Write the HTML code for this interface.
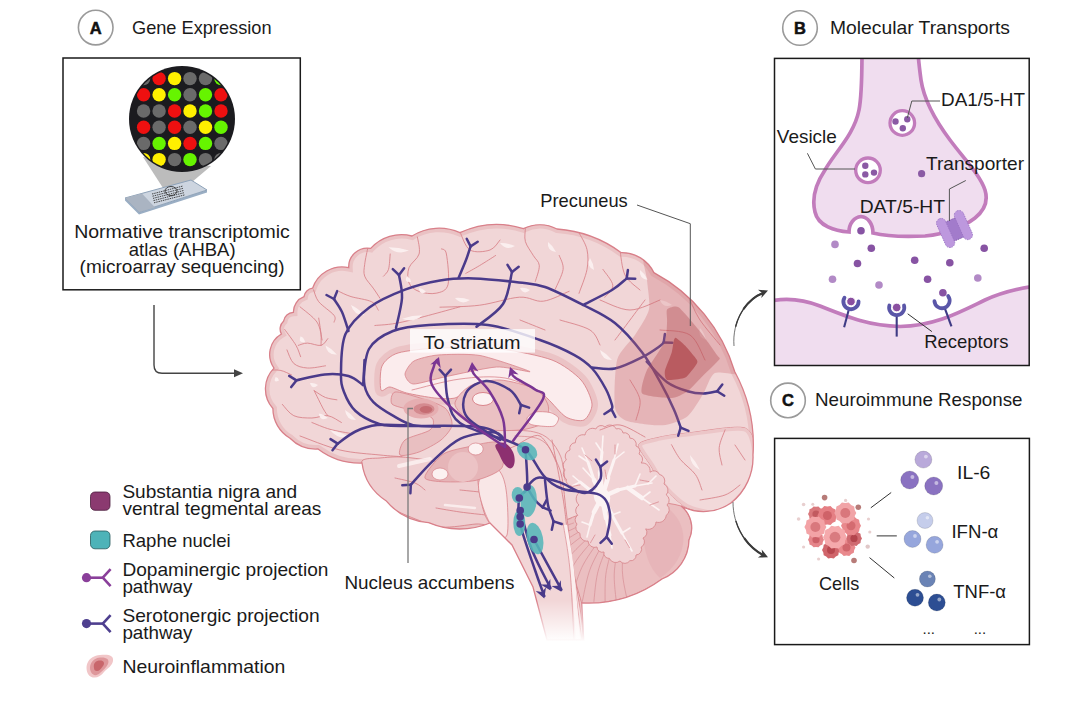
<!DOCTYPE html>
<html><head><meta charset="utf-8"><style>
html,body{margin:0;padding:0;background:#fff;width:1082px;height:705px;overflow:hidden}
svg{display:block}
text{font-family:"Liberation Sans", sans-serif}
</style></head><body>
<svg width="1082" height="705" viewBox="0 0 1082 705">
<rect width="1082" height="705" fill="#fff"/>
<circle cx="95.7" cy="27.6" r="17.3" fill="#fff" stroke="#9a9a9a" stroke-width="1.6"/>
<text x="95.7" y="33.6" font-size="16.5" font-weight="bold" fill="#111" stroke="#111" stroke-width="0.5" text-anchor="middle">A</text>
<text x="132" y="33.6" font-size="18.5" font-weight="normal" fill="#1a1a1a" text-anchor="start" textLength="139.5" lengthAdjust="spacingAndGlyphs">Gene Expression</text>
<circle cx="800" cy="28" r="17.3" fill="#fff" stroke="#9a9a9a" stroke-width="1.6"/>
<text x="800" y="34" font-size="16.5" font-weight="bold" fill="#111" stroke="#111" stroke-width="0.5" text-anchor="middle">B</text>
<text x="830" y="33.6" font-size="18.5" font-weight="normal" fill="#1a1a1a" text-anchor="start" textLength="180" lengthAdjust="spacingAndGlyphs">Molecular Transports</text>
<circle cx="788" cy="400.4" r="17.3" fill="#fff" stroke="#9a9a9a" stroke-width="1.6"/>
<text x="788" y="406.4" font-size="16.5" font-weight="bold" fill="#111" stroke="#111" stroke-width="0.5" text-anchor="middle">C</text>
<text x="815" y="406.3" font-size="18.5" font-weight="normal" fill="#1a1a1a" text-anchor="start" textLength="207.5" lengthAdjust="spacingAndGlyphs">Neuroimmune Response</text>
<rect x="63" y="58" width="237.3" height="231.8" fill="#fff" stroke="#1a1a1a" stroke-width="1.5"/>
<polygon points="143,157 211,166 192,182 163,188" fill="#bcbcbc"/>
<polygon points="125,198 139,212 207,190 207,192.5 139,214.5 125,200.5" fill="#9aaec4"/>
<polygon points="125,198 191,180 207,190 139,212" fill="#cdd5e0" stroke="#8ea2b8" stroke-width="1"/>
<polygon points="125,198 142,193.5 155,207.5 139,212" fill="#aab4c2"/>
<line x1="152.0" y1="194.0" x2="183.0" y2="186.0" stroke="#333" stroke-width="0.9" stroke-dasharray="1.5,0.8"/>
<line x1="152.5" y1="196.2" x2="183.5" y2="188.2" stroke="#333" stroke-width="0.9" stroke-dasharray="1.5,0.8"/>
<line x1="153.0" y1="198.4" x2="184.0" y2="190.4" stroke="#333" stroke-width="0.9" stroke-dasharray="1.5,0.8"/>
<line x1="153.5" y1="200.6" x2="184.5" y2="192.6" stroke="#333" stroke-width="0.9" stroke-dasharray="1.5,0.8"/>
<line x1="154.0" y1="202.8" x2="185.0" y2="194.8" stroke="#333" stroke-width="0.9" stroke-dasharray="1.5,0.8"/>
<ellipse cx="171" cy="191" rx="6" ry="4.5" fill="none" stroke="#333" stroke-width="0.9"/>
<defs><clipPath id="mc"><circle cx="182" cy="119" r="51.5"/></clipPath></defs>
<circle cx="182" cy="119" r="53" fill="#1b1b1f"/>
<g clip-path="url(#mc)">
<circle cx="143.6" cy="78.6" r="6.7" fill="#6a6a6a"/>
<circle cx="159.1" cy="78.6" r="6.7" fill="#ee1010"/>
<circle cx="174.6" cy="78.6" r="6.7" fill="#fff000"/>
<circle cx="190.0" cy="78.6" r="6.7" fill="#6a6a6a"/>
<circle cx="205.5" cy="78.6" r="6.7" fill="#6a6a6a"/>
<circle cx="221.0" cy="78.6" r="6.7" fill="#66f400"/>
<circle cx="143.6" cy="94.8" r="6.7" fill="#ee1010"/>
<circle cx="159.1" cy="94.8" r="6.7" fill="#fff000"/>
<circle cx="174.6" cy="94.8" r="6.7" fill="#66f400"/>
<circle cx="190.0" cy="94.8" r="6.7" fill="#6a6a6a"/>
<circle cx="205.5" cy="94.8" r="6.7" fill="#66f400"/>
<circle cx="221.0" cy="94.8" r="6.7" fill="#ee1010"/>
<circle cx="143.6" cy="111.0" r="6.7" fill="#6a6a6a"/>
<circle cx="159.1" cy="111.0" r="6.7" fill="#6a6a6a"/>
<circle cx="174.6" cy="111.0" r="6.7" fill="#ee1010"/>
<circle cx="190.0" cy="111.0" r="6.7" fill="#fff000"/>
<circle cx="205.5" cy="111.0" r="6.7" fill="#66f400"/>
<circle cx="221.0" cy="111.0" r="6.7" fill="#ee1010"/>
<circle cx="143.6" cy="127.2" r="6.7" fill="#ee1010"/>
<circle cx="159.1" cy="127.2" r="6.7" fill="#6a6a6a"/>
<circle cx="174.6" cy="127.2" r="6.7" fill="#ee1010"/>
<circle cx="190.0" cy="127.2" r="6.7" fill="#6a6a6a"/>
<circle cx="205.5" cy="127.2" r="6.7" fill="#fff000"/>
<circle cx="221.0" cy="127.2" r="6.7" fill="#66f400"/>
<circle cx="143.6" cy="143.4" r="6.7" fill="#6a6a6a"/>
<circle cx="159.1" cy="143.4" r="6.7" fill="#66f400"/>
<circle cx="174.6" cy="143.4" r="6.7" fill="#fff000"/>
<circle cx="190.0" cy="143.4" r="6.7" fill="#ee1010"/>
<circle cx="205.5" cy="143.4" r="6.7" fill="#66f400"/>
<circle cx="221.0" cy="143.4" r="6.7" fill="#6a6a6a"/>
<circle cx="143.6" cy="159.6" r="6.7" fill="#fff000"/>
<circle cx="159.1" cy="159.6" r="6.7" fill="#fff000"/>
<circle cx="174.6" cy="159.6" r="6.7" fill="#6a6a6a"/>
<circle cx="190.0" cy="159.6" r="6.7" fill="#66f400"/>
<circle cx="205.5" cy="159.6" r="6.7" fill="#6a6a6a"/>
<circle cx="221.0" cy="159.6" r="6.7" fill="#6a6a6a"/>
</g>
<text x="182" y="237.8" font-size="18.4" font-weight="normal" fill="#1a1a1a" text-anchor="middle" textLength="215.6" lengthAdjust="spacingAndGlyphs">Normative transcriptomic</text>
<text x="182.2" y="255.6" font-size="18.4" font-weight="normal" fill="#1a1a1a" text-anchor="middle" textLength="106.7" lengthAdjust="spacingAndGlyphs">atlas (AHBA)</text>
<text x="182.1" y="273.4" font-size="18.4" font-weight="normal" fill="#1a1a1a" text-anchor="middle" textLength="205" lengthAdjust="spacingAndGlyphs">(microarray sequencing)</text>
<path d="M154,305 V365 Q154,373.3 162,373.3 H236" fill="none" stroke="#444" stroke-width="1.4"/>
<polygon points="243,373.3 234,369.3 234,377.3" fill="#444"/>
<defs>
<clipPath id="bc"><path d="M362,463 A69.3,69.3 0 0 1 318,449 A36.0,36.0 0 0 1 290,438.3 A34.4,34.4 0 0 1 272.9,408.5 A29.5,29.5 0 0 1 274,368.1 A23.7,23.7 0 0 1 281.4,334 A10.3,10.3 0 0 1 283.5,321.3 A10.7,10.7 0 0 1 293.4,312.3 A16.2,16.2 0 0 1 304,296.7 A9.7,9.7 0 0 1 312.6,288.2 A31.2,31.2 0 0 1 348.7,267.6 A18.7,18.7 0 0 1 370.7,248.4 A41.4,41.4 0 0 1 412,236 A50.9,50.9 0 0 1 459.9,232.7 A87.8,87.8 0 0 1 523.4,228.7 A37.0,37.0 0 0 1 557,229 A123.4,123.4 0 0 1 621.3,252.7 A35.5,35.5 0 0 1 653.9,272.6 A166.4,166.4 0 0 1 734.8,371.8 A153.3,153.3 0 0 1 753,455 A58.1,58.1 0 0 1 731,503 A48.6,48.6 0 0 1 681,506 A27.9,27.9 0 0 1 689,540 A42.7,42.7 0 0 1 662,579 A125.7,125.7 0 0 1 581.7,603 L583.7,640 L547,640 L533,587 L512,545 L490,523 A79.8,79.8 0 0 1 428.6,522.7 A62.3,62.3 0 0 1 386,500.7 A53.6,53.6 0 0 1 362,463Z"/></clipPath>
<linearGradient id="fade" x1="0" y1="0" x2="0" y2="1"><stop offset="0" stop-color="#fff" stop-opacity="0"/><stop offset="1" stop-color="#fff" stop-opacity="1"/></linearGradient>
</defs>
<path d="M362,463 A69.3,69.3 0 0 1 318,449 A36.0,36.0 0 0 1 290,438.3 A34.4,34.4 0 0 1 272.9,408.5 A29.5,29.5 0 0 1 274,368.1 A23.7,23.7 0 0 1 281.4,334 A10.3,10.3 0 0 1 283.5,321.3 A10.7,10.7 0 0 1 293.4,312.3 A16.2,16.2 0 0 1 304,296.7 A9.7,9.7 0 0 1 312.6,288.2 A31.2,31.2 0 0 1 348.7,267.6 A18.7,18.7 0 0 1 370.7,248.4 A41.4,41.4 0 0 1 412,236 A50.9,50.9 0 0 1 459.9,232.7 A87.8,87.8 0 0 1 523.4,228.7 A37.0,37.0 0 0 1 557,229 A123.4,123.4 0 0 1 621.3,252.7 A35.5,35.5 0 0 1 653.9,272.6 A166.4,166.4 0 0 1 734.8,371.8 A153.3,153.3 0 0 1 753,455 A58.1,58.1 0 0 1 731,503 A48.6,48.6 0 0 1 681,506 A27.9,27.9 0 0 1 689,540 A42.7,42.7 0 0 1 662,579 A125.7,125.7 0 0 1 581.7,603 L583.7,640 L547,640 L533,587 L512,545 L490,523 A79.8,79.8 0 0 1 428.6,522.7 A62.3,62.3 0 0 1 386,500.7 A53.6,53.6 0 0 1 362,463Z" fill="#f1d6d7"/>
<g clip-path="url(#bc)">
<path d="M362,463 A69.3,69.3 0 0 1 318,449 A36.0,36.0 0 0 1 290,438.3 A34.4,34.4 0 0 1 272.9,408.5 A29.5,29.5 0 0 1 274,368.1 A23.7,23.7 0 0 1 281.4,334 A10.3,10.3 0 0 1 283.5,321.3 A10.7,10.7 0 0 1 293.4,312.3 A16.2,16.2 0 0 1 304,296.7 A9.7,9.7 0 0 1 312.6,288.2 A31.2,31.2 0 0 1 348.7,267.6 A18.7,18.7 0 0 1 370.7,248.4 A41.4,41.4 0 0 1 412,236 A50.9,50.9 0 0 1 459.9,232.7 A87.8,87.8 0 0 1 523.4,228.7 A37.0,37.0 0 0 1 557,229 A123.4,123.4 0 0 1 621.3,252.7 A35.5,35.5 0 0 1 653.9,272.6 A166.4,166.4 0 0 1 734.8,371.8 A153.3,153.3 0 0 1 753,455 A58.1,58.1 0 0 1 731,503 A48.6,48.6 0 0 1 681,506 A27.9,27.9 0 0 1 689,540 A42.7,42.7 0 0 1 662,579 A125.7,125.7 0 0 1 581.7,603 L583.7,640 L547,640 L533,587 L512,545 L490,523 A79.8,79.8 0 0 1 428.6,522.7 A62.3,62.3 0 0 1 386,500.7 A53.6,53.6 0 0 1 362,463Z" fill="none" stroke="#eac2c4" stroke-width="8"/>
<path d="M362.0,461.0 C363.9,457.8 374.7,458.5 380.0,458.0 C385.3,457.5 394.0,456.5 402.0,457.0 C410.0,457.5 430.9,460.3 440.0,462.0 C449.1,463.7 463.3,466.3 470.0,470.0 C476.7,473.7 486.7,482.9 490.0,490.0 C493.3,497.1 496.9,518.5 495.0,523.0 C493.1,527.5 483.1,523.5 476.0,524.0 C468.9,524.5 450.5,528.1 441.4,527.0 C432.3,525.9 415.8,519.2 408.0,516.0 C400.2,512.8 388.6,507.5 383.0,503.0 C377.4,498.5 368.8,487.6 366.0,482.0 C363.2,476.4 360.1,464.2 362.0,461.0Z" fill="#efcfd1" stroke="#d9848b" stroke-width="0.9"/>
<path d="M395.0,478.0 C398.3,478.8 410.0,481.0 415.0,483.0 C420.0,485.0 423.3,488.8 425.0,490.0" fill="none" stroke="#d9848b" stroke-width="0.9" stroke-linecap="round"/>
<path d="M436.0,508.0 C440.0,508.7 451.7,510.8 460.0,512.0 C468.3,513.2 481.7,514.5 486.0,515.0" fill="none" stroke="#d9848b" stroke-width="0.9" stroke-linecap="round"/>
<path d="M460.0,490.0 C463.3,490.3 476.7,491.7 480.0,492.0" fill="none" stroke="#d9848b" stroke-width="0.9" stroke-linecap="round"/>
<path d="M445.0,505.0 C450.0,505.5 470.0,507.5 475.0,508.0" fill="none" stroke="#fbeeee" stroke-width="2.5" stroke-linecap="round" opacity="0.9"/>
<path d="M300.0,436.0 C306.7,438.3 326.7,446.8 340.0,450.0 C353.3,453.2 369.7,453.9 380.0,455.0 C390.3,456.1 398.3,456.4 402.0,456.7" fill="none" stroke="#d9848b" stroke-width="0.9" stroke-linecap="round"/>
<clipPath id="occc"><path d="M638.7,444.7 C639.9,440.9 652.8,438.8 659.6,437.2 C666.4,435.6 678.0,434.0 689.4,432.8 C700.8,431.6 736.1,425.0 745.0,428.0 C753.9,431.0 755.3,447.9 756.0,455.5 C756.7,463.1 753.3,478.3 750.0,485.0 C746.7,491.7 736.1,502.1 731.2,506.0 C726.3,509.9 719.2,513.8 713.2,514.0 C707.2,514.2 692.7,510.6 686.4,507.3 C680.1,504.0 670.4,495.0 665.6,489.4 C660.8,483.8 654.3,471.6 650.7,465.6 C647.1,459.6 637.5,448.5 638.7,444.7Z"/></clipPath>
<path d="M638.7,444.7 C639.9,440.9 652.8,438.8 659.6,437.2 C666.4,435.6 678.0,434.0 689.4,432.8 C700.8,431.6 736.1,425.0 745.0,428.0 C753.9,431.0 755.3,447.9 756.0,455.5 C756.7,463.1 753.3,478.3 750.0,485.0 C746.7,491.7 736.1,502.1 731.2,506.0 C726.3,509.9 719.2,513.8 713.2,514.0 C707.2,514.2 692.7,510.6 686.4,507.3 C680.1,504.0 670.4,495.0 665.6,489.4 C660.8,483.8 654.3,471.6 650.7,465.6 C647.1,459.6 637.5,448.5 638.7,444.7Z" fill="#f2d9da" stroke="#d9848b" stroke-width="0.9"/>
<g clip-path="url(#occc)">
<path d="M638.7,444.7 C639.9,440.9 652.8,438.8 659.6,437.2 C666.4,435.6 678.0,434.0 689.4,432.8 C700.8,431.6 736.1,425.0 745.0,428.0 C753.9,431.0 755.3,447.9 756.0,455.5 C756.7,463.1 753.3,478.3 750.0,485.0 C746.7,491.7 736.1,502.1 731.2,506.0 C726.3,509.9 719.2,513.8 713.2,514.0 C707.2,514.2 692.7,510.6 686.4,507.3 C680.1,504.0 670.4,495.0 665.6,489.4 C660.8,483.8 654.3,471.6 650.7,465.6 C647.1,459.6 637.5,448.5 638.7,444.7Z" fill="none" stroke="#ecc6c8" stroke-width="7"/>
</g>
<path d="M671.5,444.7 C673.0,447.2 676.5,454.6 680.5,459.6 C684.5,464.6 691.8,469.4 695.4,474.5 C699.0,479.6 700.9,487.4 702.0,490.0" fill="none" stroke="#d9848b" stroke-width="0.9" stroke-linecap="round"/>
<path d="M725.1,429.8 C724.1,432.8 719.7,441.8 719.2,447.7 C718.7,453.6 721.5,462.1 722.0,465.0" fill="none" stroke="#d9848b" stroke-width="0.9" stroke-linecap="round"/>
<path d="M700.0,500.0 C704.2,499.2 718.3,497.5 725.0,495.0 C731.7,492.5 737.5,486.7 740.0,485.0" fill="none" stroke="#d9848b" stroke-width="0.9" stroke-linecap="round"/>
<path d="M735.0,445.0 C736.7,447.5 743.3,457.5 745.0,460.0" fill="none" stroke="#d9848b" stroke-width="0.9" stroke-linecap="round"/>
<path d="M690.0,455.0 Q690.4,465.6 700.0,470.0 Q696.2,461.7 690.0,455.0Z" fill="#fbf0f0" opacity="0.95"/>
<path d="M681,506 A27.9,27.9 0 0 1 689,540 A42.7,42.7 0 0 1 662,579 A125.7,125.7 0 0 1 581.7,603 L572,570 L566,520 C600,505 650,497 681,506Z" fill="#ebbfc1" stroke="#d9848b" stroke-width="0.9"/>
<clipPath id="cbc"><path d="M681,506 A27.9,27.9 0 0 1 689,540 A42.7,42.7 0 0 1 662,579 A125.7,125.7 0 0 1 581.7,603 L572,570 L566,520 C600,505 650,497 681,506Z"/></clipPath>
<g clip-path="url(#cbc)">
<path d="M623.7,544.2 C623.5,549.3 621.6,563.8 622.6,574.6 C623.5,585.5 628.2,603.4 629.3,609.1" fill="none" stroke="#d9949a" stroke-width="0.8" stroke-linecap="round"/>
<path d="M618.5,544.9 C617.8,549.9 614.4,564.1 614.2,575.0 C614.0,585.8 616.8,604.1 617.3,610.0" fill="none" stroke="#d9949a" stroke-width="0.8" stroke-linecap="round"/>
<path d="M613.3,545.0 C612.0,549.9 607.2,563.7 605.8,574.5 C604.5,585.2 605.3,603.7 605.2,609.6" fill="none" stroke="#d9949a" stroke-width="0.8" stroke-linecap="round"/>
<path d="M608.0,544.5 C606.3,549.3 600.0,562.5 597.6,573.1 C595.1,583.6 594.0,602.1 593.3,607.9" fill="none" stroke="#d9949a" stroke-width="0.8" stroke-linecap="round"/>
<path d="M602.9,543.5 C600.7,548.1 593.0,560.6 589.5,570.8 C586.0,581.1 582.9,599.3 581.6,605.1" fill="none" stroke="#d9949a" stroke-width="0.8" stroke-linecap="round"/>
<path d="M597.9,542.0 C595.2,546.3 586.3,557.9 581.7,567.7 C577.1,577.6 572.2,595.4 570.3,601.0" fill="none" stroke="#d9949a" stroke-width="0.8" stroke-linecap="round"/>
<path d="M593.1,539.9 C590.0,543.9 579.9,554.6 574.3,563.9 C568.7,573.2 562.0,590.4 559.5,595.7" fill="none" stroke="#d9949a" stroke-width="0.8" stroke-linecap="round"/>
<path d="M588.5,537.4 C585.0,541.0 573.9,550.6 567.3,559.2 C560.8,567.9 552.3,584.3 549.3,589.4" fill="none" stroke="#d9949a" stroke-width="0.8" stroke-linecap="round"/>
<path d="M584.2,534.4 C580.3,537.7 568.3,546.0 560.9,553.9 C553.5,561.8 543.3,577.3 539.8,582.0" fill="none" stroke="#d9949a" stroke-width="0.8" stroke-linecap="round"/>
<path d="M580.3,531.0 C576.1,533.8 563.2,540.8 555.0,547.9 C546.8,555.0 535.1,569.3 531.1,573.6" fill="none" stroke="#d9949a" stroke-width="0.8" stroke-linecap="round"/>
<path d="M576.7,527.1 C572.2,529.5 558.7,535.1 549.8,541.4 C540.9,547.6 527.7,560.6 523.3,564.4" fill="none" stroke="#d9949a" stroke-width="0.8" stroke-linecap="round"/>
<path d="M573.5,523.0 C568.8,524.8 554.8,529.0 545.3,534.3 C535.8,539.5 521.4,551.1 516.6,554.5" fill="none" stroke="#d9949a" stroke-width="0.8" stroke-linecap="round"/>
<path d="M570.9,518.5 C566.0,519.9 551.6,522.6 541.6,526.8 C531.6,531.0 516.0,541.0 510.9,543.8" fill="none" stroke="#d9949a" stroke-width="0.8" stroke-linecap="round"/>
<path d="M568.6,513.7 C563.6,514.6 549.0,515.8 538.7,518.9 C528.3,522.1 511.7,530.4 506.4,532.7" fill="none" stroke="#d9949a" stroke-width="0.8" stroke-linecap="round"/>
<path d="M566.9,508.8 C561.9,509.1 547.2,508.8 536.6,510.8 C525.9,512.9 508.6,519.4 503.0,521.1" fill="none" stroke="#d9949a" stroke-width="0.8" stroke-linecap="round"/>
<path d="M565.8,503.7 C560.7,503.5 546.2,501.6 535.4,502.6 C524.5,503.5 506.6,508.2 500.9,509.3" fill="none" stroke="#d9949a" stroke-width="0.8" stroke-linecap="round"/>
<path d="M565.1,498.5 C560.1,497.8 545.9,494.4 535.0,494.2 C524.2,494.0 505.9,496.8 500.0,497.3" fill="none" stroke="#d9949a" stroke-width="0.8" stroke-linecap="round"/>
<path d="M565.0,493.3 C560.1,492.0 546.3,487.2 535.5,485.8 C524.8,484.5 506.3,485.3 500.4,485.2" fill="none" stroke="#d9949a" stroke-width="0.8" stroke-linecap="round"/>
<path d="M565.5,488.0 C560.7,486.3 547.5,480.0 536.9,477.6 C526.4,475.1 507.9,474.0 502.1,473.3" fill="none" stroke="#d9949a" stroke-width="0.8" stroke-linecap="round"/>
<path d="M566.5,482.9 C561.9,480.7 549.4,473.0 539.2,469.5 C528.9,466.0 510.7,462.9 504.9,461.6" fill="none" stroke="#d9949a" stroke-width="0.8" stroke-linecap="round"/>
<path d="M568.0,477.9 C563.7,475.2 552.1,466.3 542.3,461.7 C532.4,457.1 514.6,452.2 509.0,450.3" fill="none" stroke="#d9949a" stroke-width="0.8" stroke-linecap="round"/>
<path d="M570.1,473.1 C566.1,470.0 555.4,459.9 546.1,454.3 C536.8,448.7 519.6,442.0 514.3,439.5" fill="none" stroke="#d9949a" stroke-width="0.8" stroke-linecap="round"/>
</g>
<path d="M650,500 C690,510 695,555 660,578 C640,560 640,520 650,500Z" fill="#e6b3b6" opacity="0.8"/>
<path d="M595.8,429.0 A5.8,5.8 0 0 1 605.0,427.0 A7.1,7.1 0 0 1 616.3,429.0 A4.8,4.8 0 0 1 623.0,433.0 A5.3,5.3 0 0 1 629.9,438.1 A6.2,6.2 0 0 1 636.0,446.0 A5.3,5.3 0 0 1 639.0,454.0 A5.7,5.7 0 0 1 641.2,463.0 A7.9,7.9 0 0 1 650.0,472.2 A6.0,6.0 0 0 1 659.4,474.4 A6.6,6.6 0 0 1 664.0,484.0 A6.9,6.9 0 0 1 666.2,494.9 A6.3,6.3 0 0 1 667.0,505.0 A6.4,6.4 0 0 1 666.2,515.3 A7.6,7.6 0 0 1 656.0,522.0 A7.7,7.7 0 0 1 645.7,528.9 A5.9,5.9 0 0 1 643.0,538.0 A5.7,5.7 0 0 1 641.2,547.0 A5.9,5.9 0 0 1 636.0,555.0 A5.2,5.2 0 0 1 629.9,560.7 A6.1,6.1 0 0 1 620.0,561.0 A6.8,6.8 0 0 1 609.4,558.4 A5.2,5.2 0 0 1 604.0,552.0 A5.3,5.3 0 0 1 597.0,547.0 A6.7,6.7 0 0 1 588.0,541.0 A6.8,6.8 0 0 1 580.0,533.4 A6.1,6.1 0 0 1 577.0,524.0 A5.4,5.4 0 0 1 577.7,515.3 A6.4,6.4 0 0 1 579.0,505.0 A8.1,8.1 0 0 1 580.0,492.0 A6.2,6.2 0 0 1 572.0,486.0 A5.6,5.6 0 0 1 566.3,479.0 A5.6,5.6 0 0 1 565.0,470.0 A6.3,6.3 0 0 1 566.3,460.0 A6.6,6.6 0 0 1 570.0,450.0 A5.6,5.6 0 0 1 575.4,442.7 A7.6,7.6 0 0 1 585.0,435.0 A7.7,7.7 0 0 1 595.8,429.0Z" fill="#f1d3d5" stroke="#d98a90" stroke-width="0.9"/>
<ellipse cx="602" cy="497" rx="8" ry="10" fill="#fcf3f3" transform="rotate(-20 602 497)"/>
<line x1="602.0" y1="497.0" x2="594.0" y2="480.0" stroke="#fcf3f3" stroke-width="4.5" stroke-linecap="round"/>
<line x1="594.0" y1="480.0" x2="588.0" y2="462.0" stroke="#fcf3f3" stroke-width="3.0" stroke-linecap="round"/>
<line x1="588.0" y1="462.0" x2="582.0" y2="448.0" stroke="#fcf3f3" stroke-width="1.6" stroke-linecap="round"/>
<line x1="602.0" y1="497.0" x2="600.0" y2="472.0" stroke="#fcf3f3" stroke-width="4.5" stroke-linecap="round"/>
<line x1="600.0" y1="472.0" x2="602.0" y2="452.0" stroke="#fcf3f3" stroke-width="3.0" stroke-linecap="round"/>
<line x1="602.0" y1="452.0" x2="603.0" y2="436.0" stroke="#fcf3f3" stroke-width="1.6" stroke-linecap="round"/>
<line x1="602.0" y1="497.0" x2="608.0" y2="478.0" stroke="#fcf3f3" stroke-width="4.5" stroke-linecap="round"/>
<line x1="608.0" y1="478.0" x2="614.0" y2="460.0" stroke="#fcf3f3" stroke-width="3.0" stroke-linecap="round"/>
<line x1="614.0" y1="460.0" x2="618.0" y2="444.0" stroke="#fcf3f3" stroke-width="1.6" stroke-linecap="round"/>
<line x1="602.0" y1="497.0" x2="618.0" y2="490.0" stroke="#fcf3f3" stroke-width="4.5" stroke-linecap="round"/>
<line x1="618.0" y1="490.0" x2="635.0" y2="486.0" stroke="#fcf3f3" stroke-width="3.0" stroke-linecap="round"/>
<line x1="635.0" y1="486.0" x2="652.0" y2="483.0" stroke="#fcf3f3" stroke-width="1.6" stroke-linecap="round"/>
<line x1="628.0" y1="488.0" x2="642.0" y2="498.0" stroke="#fcf3f3" stroke-width="4.5" stroke-linecap="round"/>
<line x1="642.0" y1="498.0" x2="659.0" y2="510.0" stroke="#fcf3f3" stroke-width="1.6" stroke-linecap="round"/>
<line x1="602.0" y1="497.0" x2="612.0" y2="515.0" stroke="#fcf3f3" stroke-width="4.5" stroke-linecap="round"/>
<line x1="612.0" y1="515.0" x2="622.0" y2="533.0" stroke="#fcf3f3" stroke-width="3.0" stroke-linecap="round"/>
<line x1="622.0" y1="533.0" x2="632.0" y2="551.0" stroke="#fcf3f3" stroke-width="1.6" stroke-linecap="round"/>
<line x1="602.0" y1="497.0" x2="590.0" y2="490.0" stroke="#fcf3f3" stroke-width="4.5" stroke-linecap="round"/>
<line x1="590.0" y1="490.0" x2="580.0" y2="482.0" stroke="#fcf3f3" stroke-width="3.0" stroke-linecap="round"/>
<line x1="580.0" y1="482.0" x2="573.0" y2="476.0" stroke="#fcf3f3" stroke-width="1.6" stroke-linecap="round"/>
<line x1="602.0" y1="497.0" x2="606.0" y2="518.0" stroke="#fcf3f3" stroke-width="4.5" stroke-linecap="round"/>
<line x1="606.0" y1="518.0" x2="610.0" y2="535.0" stroke="#fcf3f3" stroke-width="3.0" stroke-linecap="round"/>
<line x1="610.0" y1="535.0" x2="612.0" y2="548.0" stroke="#fcf3f3" stroke-width="1.6" stroke-linecap="round"/>
<line x1="602.0" y1="497.0" x2="594.0" y2="512.0" stroke="#fcf3f3" stroke-width="4.5" stroke-linecap="round"/>
<line x1="594.0" y1="512.0" x2="590.0" y2="525.0" stroke="#fcf3f3" stroke-width="3.0" stroke-linecap="round"/>
<line x1="590.0" y1="525.0" x2="587.0" y2="537.0" stroke="#fcf3f3" stroke-width="1.6" stroke-linecap="round"/>
<line x1="588.0" y1="462.0" x2="579.0" y2="456.0" stroke="#fcf3f3" stroke-width="1.6" stroke-linecap="round"/>
<line x1="594.0" y1="480.0" x2="583.0" y2="468.0" stroke="#fcf3f3" stroke-width="1.6" stroke-linecap="round"/>
<line x1="602.0" y1="452.0" x2="596.0" y2="443.0" stroke="#fcf3f3" stroke-width="1.6" stroke-linecap="round"/>
<line x1="614.0" y1="460.0" x2="624.0" y2="452.0" stroke="#fcf3f3" stroke-width="1.6" stroke-linecap="round"/>
<line x1="635.0" y1="486.0" x2="640.0" y2="474.0" stroke="#fcf3f3" stroke-width="1.6" stroke-linecap="round"/>
<line x1="642.0" y1="498.0" x2="650.0" y2="492.0" stroke="#fcf3f3" stroke-width="1.6" stroke-linecap="round"/>
<line x1="622.0" y1="533.0" x2="630.0" y2="528.0" stroke="#fcf3f3" stroke-width="1.6" stroke-linecap="round"/>
<line x1="612.0" y1="515.0" x2="620.0" y2="512.0" stroke="#fcf3f3" stroke-width="1.6" stroke-linecap="round"/>
<line x1="610.0" y1="535.0" x2="602.0" y2="540.0" stroke="#fcf3f3" stroke-width="1.6" stroke-linecap="round"/>
<line x1="590.0" y1="525.0" x2="582.0" y2="522.0" stroke="#fcf3f3" stroke-width="1.6" stroke-linecap="round"/>
<line x1="580.0" y1="482.0" x2="572.0" y2="486.0" stroke="#fcf3f3" stroke-width="1.6" stroke-linecap="round"/>
<line x1="648.0" y1="484.0" x2="656.0" y2="476.0" stroke="#fcf3f3" stroke-width="1.6" stroke-linecap="round"/>
<path d="M585.0,455.0 C586.1,456.0 590.7,459.8 591.9,460.8" fill="none" stroke="#d98a90" stroke-width="0.8" stroke-linecap="round"/>
<path d="M615.0,445.0 C615.0,446.5 615.0,452.5 615.0,454.0" fill="none" stroke="#d98a90" stroke-width="0.8" stroke-linecap="round"/>
<path d="M640.0,480.0 C641.5,480.3 647.4,481.3 648.9,481.6" fill="none" stroke="#d98a90" stroke-width="0.8" stroke-linecap="round"/>
<path d="M650.0,505.0 C651.4,504.5 657.0,502.4 658.5,501.9" fill="none" stroke="#d98a90" stroke-width="0.8" stroke-linecap="round"/>
<path d="M625.0,540.0 C625.8,541.3 628.8,546.5 629.5,547.8" fill="none" stroke="#d98a90" stroke-width="0.8" stroke-linecap="round"/>
<path d="M595.0,535.0 C594.2,536.3 591.2,541.5 590.5,542.8" fill="none" stroke="#d98a90" stroke-width="0.8" stroke-linecap="round"/>
<path d="M580.0,485.0 C578.5,485.3 572.6,486.3 571.1,486.6" fill="none" stroke="#d98a90" stroke-width="0.8" stroke-linecap="round"/>
<path d="M605.0,470.0 C605.3,471.5 606.3,477.4 606.6,478.9" fill="none" stroke="#d98a90" stroke-width="0.8" stroke-linecap="round"/>
<path d="M478.0,476.0 C478.9,468.4 487.1,462.0 492.0,458.0 C496.9,454.0 508.6,448.9 515.0,446.0 C521.4,443.1 534.0,432.8 540.0,436.0 C546.0,439.2 556.5,460.1 560.0,470.0 C563.5,479.9 564.4,498.0 566.0,510.0 C567.6,522.0 569.9,542.7 572.0,560.0 C574.1,577.3 585.6,629.3 582.0,640.0 C578.4,650.7 552.5,647.3 545.0,640.0 C537.5,632.7 531.3,597.7 526.0,585.0 C520.7,572.3 510.5,554.3 505.0,545.0 C499.5,535.7 488.6,524.2 485.0,515.0 C481.4,505.8 477.1,483.6 478.0,476.0Z" fill="#f2d6d7" stroke="#d9848b" stroke-width="0.9"/>
<path d="M552.0,440.0 C553.8,449.7 560.2,480.5 563.0,498.0 C565.8,515.5 565.8,521.3 569.0,545.0 C572.2,568.7 579.8,624.2 582.0,640.0" fill="none" stroke="#d9848b" stroke-width="0.9" stroke-linecap="round"/>
<path d="M565.0,525.0 C566.2,532.5 569.8,550.8 572.0,570.0 C574.2,589.2 577.0,628.3 578.0,640.0" fill="none" stroke="#fbeeee" stroke-width="4"/>
<path d="M563.0,523.0 C564.2,530.8 568.2,550.5 570.0,570.0 C571.8,589.5 573.3,628.3 574.0,640.0" fill="none" stroke="#d9848b" stroke-width="0.7" stroke-linecap="round"/>
<path d="M507.5,430.0 C511.9,430.3 526.6,430.2 533.6,431.8 C540.6,433.4 545.0,435.5 549.5,439.7 C554.0,443.9 558.2,450.1 560.8,456.8 C563.4,463.5 564.3,476.1 565.0,480.0" fill="none" stroke="#d9848b" stroke-width="0.8" stroke-linecap="round"/>
<path d="M515.0,436.0 C518.5,436.3 530.5,436.3 536.0,438.0 C541.5,439.7 544.7,442.0 548.0,446.0 C551.3,450.0 554.7,459.3 556.0,462.0" fill="none" stroke="#d9848b" stroke-width="0.7" stroke-linecap="round"/>
<path d="M478.7,482.4 C479.9,475.2 487.3,468.0 491.2,466.8 C495.1,465.6 499.4,469.8 502.0,475.0 C504.6,480.2 506.2,488.0 507.0,498.0 C507.8,508.0 508.8,529.3 507.0,535.0 C505.2,540.7 499.8,536.2 496.0,532.0 C492.2,527.8 486.9,518.3 484.0,510.0 C481.1,501.7 477.5,489.6 478.7,482.4Z" fill="#f9e7e7" stroke="#d9848b" stroke-width="0.8"/>
<path d="M381.0,390.0 C379.9,387.2 379.7,370.9 382.0,366.0 C384.3,361.1 390.3,355.4 398.0,353.0 C405.7,350.6 426.4,348.5 440.0,348.0 C453.6,347.5 485.1,347.4 500.0,349.0 C514.9,350.6 541.2,355.9 552.0,360.0 C562.8,364.1 575.7,374.1 581.0,380.0 C586.3,385.9 591.6,398.7 592.0,404.0 C592.4,409.3 587.5,418.3 584.0,420.0 C580.5,421.7 570.8,419.8 566.0,417.0 C561.2,414.2 552.1,402.7 548.0,399.0 C543.9,395.3 541.4,391.1 535.0,389.0 C528.6,386.9 508.7,382.9 500.0,383.0 C491.3,383.1 476.0,388.0 470.0,390.0 C464.0,392.0 459.7,396.9 455.0,398.0 C450.3,399.1 441.2,398.7 434.7,398.0 C428.2,397.3 412.6,394.5 406.6,393.0 C400.6,391.5 393.4,387.4 390.0,387.0 C386.6,386.6 382.1,392.8 381.0,390.0Z" fill="none" stroke="#ebc3c5" stroke-width="12"/>
<path d="M395.0,392.0 C398.7,391.2 413.3,395.9 420.0,398.0 C426.7,400.1 440.7,404.4 445.0,408.0 C449.3,411.6 452.5,420.7 452.0,425.0 C451.5,429.3 445.4,436.4 441.0,440.0 C436.6,443.6 424.5,450.0 419.0,452.0 C413.5,454.0 401.9,456.6 400.0,455.0 C398.1,453.4 401.0,443.3 405.0,440.0 C409.0,436.7 426.4,432.9 430.0,430.0 C433.6,427.1 434.7,420.7 432.0,418.0 C429.3,415.3 415.3,411.9 410.0,410.0 C404.7,408.1 394.0,406.4 392.0,404.0 C390.0,401.6 391.3,392.8 395.0,392.0Z" fill="#e9bfc1" stroke="#d9848b" stroke-width="0.8"/>
<path d="M381.0,390.0 C379.9,387.2 379.7,370.9 382.0,366.0 C384.3,361.1 390.3,355.4 398.0,353.0 C405.7,350.6 426.4,348.5 440.0,348.0 C453.6,347.5 485.1,347.4 500.0,349.0 C514.9,350.6 541.2,355.9 552.0,360.0 C562.8,364.1 575.7,374.1 581.0,380.0 C586.3,385.9 591.6,398.7 592.0,404.0 C592.4,409.3 587.5,418.3 584.0,420.0 C580.5,421.7 570.8,419.8 566.0,417.0 C561.2,414.2 552.1,402.7 548.0,399.0 C543.9,395.3 541.4,391.1 535.0,389.0 C528.6,386.9 508.7,382.9 500.0,383.0 C491.3,383.1 476.0,388.0 470.0,390.0 C464.0,392.0 459.7,396.9 455.0,398.0 C450.3,399.1 441.2,398.7 434.7,398.0 C428.2,397.3 412.6,394.5 406.6,393.0 C400.6,391.5 393.4,387.4 390.0,387.0 C386.6,386.6 382.1,392.8 381.0,390.0Z" fill="#fbeced" stroke="#d9848b" stroke-width="0.9"/>
<path d="M405.0,374.0 C405.1,371.3 410.1,363.2 414.0,361.0 C417.9,358.8 430.3,355.6 438.0,355.0 C445.7,354.4 469.3,353.6 480.0,355.5 C490.7,357.4 528.1,370.3 530.0,371.6 C531.9,372.9 506.2,366.4 496.5,367.0 C486.8,367.6 456.2,374.5 446.5,376.5 C436.8,378.5 418.1,384.3 413.3,384.0 C408.5,383.7 404.9,376.7 405.0,374.0Z" fill="#e9bbbd" stroke="#d9848b" stroke-width="0.8"/>
<path d="M412.0,390.0 C420.0,388.2 444.5,381.0 460.0,379.0 C475.5,377.0 491.7,375.8 505.0,378.0 C518.3,380.2 534.2,389.7 540.0,392.0" fill="none" stroke="#d9848b" stroke-width="0.8" stroke-linecap="round"/>
<path d="M455.0,405.0 C453.7,399.4 464.0,389.3 470.0,386.0 C476.0,382.7 491.3,379.6 500.0,380.0 C508.7,380.4 528.6,385.7 535.0,389.0 C541.4,392.3 546.7,400.6 548.0,405.0 C549.3,409.4 548.7,418.7 545.0,422.0 C541.3,425.3 528.7,429.2 520.0,430.0 C511.3,430.8 488.7,431.3 480.0,428.0 C471.3,424.7 456.3,410.6 455.0,405.0Z" fill="#ebc1c3" stroke="#d9848b" stroke-width="0.8"/>
<ellipse cx="483" cy="399" rx="10.5" ry="6.5" fill="#fcf1f1" stroke="#d9848b" stroke-width="1"/>
<path d="M527.0,418.0 C527.7,416.4 531.9,412.7 535.0,412.0 C538.1,411.3 546.9,411.7 550.0,412.5 C553.1,413.3 558.0,416.2 558.5,418.0 C559.0,419.8 556.5,424.9 554.0,426.0 C551.5,427.1 543.2,426.3 540.0,426.0 C536.8,425.7 531.7,425.1 530.0,424.0 C528.3,422.9 526.3,419.6 527.0,418.0Z" fill="#fcf1f1" stroke="#d9848b" stroke-width="0.8"/>
<path d="M430.0,468.0 C432.5,464.7 439.2,456.4 444.0,453.6 C448.8,450.8 458.7,448.8 466.0,447.3 C473.3,445.8 494.2,439.9 499.0,442.6 C503.8,445.3 505.1,462.7 502.0,467.7 C498.9,472.7 483.7,478.4 476.0,480.3 C468.3,482.2 450.7,482.0 444.0,481.8 C437.3,481.6 427.3,480.5 425.4,478.7 C423.5,476.9 427.5,471.3 430.0,468.0Z" fill="#e6b5b8" stroke="#d9848b" stroke-width="0.8"/>
<circle cx="463" cy="467" r="15" fill="#ecc3c5"/>
<ellipse cx="475.7" cy="449" rx="7.5" ry="6" fill="#fcf1f1" stroke="#d9848b" stroke-width="0.7"/>
<ellipse cx="440" cy="474" rx="8" ry="6" fill="#fcf1f1" stroke="#d9848b" stroke-width="0.7"/>
<path d="M399.0,466.0 C404.2,464.8 424.8,460.2 430.0,459.0" fill="none" stroke="#fbeeee" stroke-width="4" stroke-linecap="round" opacity="0.9"/>
<ellipse cx="421" cy="408.5" rx="17.5" ry="10" fill="#e6aeb1"/>
<ellipse cx="424" cy="409" rx="10.5" ry="5.8" fill="#d48a8f"/>
<ellipse cx="426" cy="409.5" rx="6.3" ry="3.5" fill="#c56c72"/>
<path d="M284.7,329.5 C286.6,332.1 293.4,340.9 296.0,345.4 C298.6,349.9 299.8,354.8 300.6,356.7" fill="none" stroke="#d9848b" stroke-width="0.9" stroke-linecap="round"/>
<path d="M298.3,345.4 C299.8,345.0 303.6,343.1 307.4,343.1 C311.2,343.1 317.6,346.1 321.0,345.4 C324.4,344.6 326.7,339.7 327.8,338.6" fill="none" stroke="#d9848b" stroke-width="0.9" stroke-linecap="round"/>
<path d="M318.7,318.1 C319.1,320.8 320.6,329.4 321.0,334.0 C321.4,338.6 321.0,343.5 321.0,345.4" fill="none" stroke="#d9848b" stroke-width="0.9" stroke-linecap="round"/>
<path d="M287.0,349.9 C288.1,352.2 290.4,360.5 293.8,363.5 C297.2,366.5 302.1,367.6 307.4,368.0 C312.7,368.4 322.5,366.2 325.5,365.8" fill="none" stroke="#d9848b" stroke-width="0.9" stroke-linecap="round"/>
<path d="M266.5,370.3 C268.8,370.3 275.9,369.5 280.1,370.3 C284.3,371.1 289.6,374.1 291.5,374.9" fill="none" stroke="#d9848b" stroke-width="0.9" stroke-linecap="round"/>
<path d="M314.2,390.7 C316.1,391.8 321.7,396.0 325.5,397.5 C329.3,399.0 335.0,399.4 336.9,399.8" fill="none" stroke="#d9848b" stroke-width="0.9" stroke-linecap="round"/>
<path d="M282.4,404.4 C284.3,406.3 288.9,413.4 293.8,415.7 C298.7,418.0 306.2,418.0 311.9,418.0 C317.6,418.0 322.9,414.9 327.8,415.7 C332.7,416.4 339.1,421.4 341.4,422.5" fill="none" stroke="#d9848b" stroke-width="0.9" stroke-linecap="round"/>
<path d="M314.2,390.7 C315.7,393.7 321.0,404.7 323.3,408.9 C325.6,413.1 327.1,414.6 327.8,415.7" fill="none" stroke="#d9848b" stroke-width="0.9" stroke-linecap="round"/>
<path d="M311.9,422.5 C314.9,423.6 323.2,427.4 330.0,429.3 C336.8,431.2 348.9,433.1 352.7,433.8" fill="none" stroke="#d9848b" stroke-width="0.9" stroke-linecap="round"/>
<path d="M313.6,289.8 C314.5,291.8 315.3,297.4 318.7,301.7 C322.1,305.9 331.4,311.9 334.0,315.3 C336.6,318.7 334.0,321.0 334.0,322.1" fill="none" stroke="#d9848b" stroke-width="0.9" stroke-linecap="round"/>
<path d="M339.1,291.5 C341.1,292.4 345.6,294.9 351.0,296.6 C356.4,298.3 366.9,299.4 371.5,301.7 C376.1,304.0 377.2,308.8 378.3,310.2" fill="none" stroke="#d9848b" stroke-width="0.9" stroke-linecap="round"/>
<path d="M300.0,306.8 C302.8,309.4 313.3,316.6 317.0,322.1 C320.7,327.6 321.2,337.0 322.1,340.0" fill="none" stroke="#d9848b" stroke-width="0.9" stroke-linecap="round"/>
<path d="M368.0,247.2 C367.4,250.0 365.2,259.5 364.7,264.3 C364.1,269.1 363.3,272.2 364.7,276.2 C366.1,280.2 370.6,284.4 373.2,288.1 C375.8,291.8 378.9,296.6 380.0,298.3" fill="none" stroke="#d9848b" stroke-width="0.9" stroke-linecap="round"/>
<path d="M390.2,254.0 C389.9,256.6 389.6,265.7 388.5,269.4 C387.4,273.1 384.2,275.1 383.4,276.2" fill="none" stroke="#d9848b" stroke-width="0.9" stroke-linecap="round"/>
<path d="M417.4,237.0 C417.7,239.8 420.5,248.9 419.1,254.0 C417.7,259.1 410.7,262.9 409.0,267.7 C407.3,272.5 407.3,279.0 409.0,283.0 C410.7,287.0 414.6,289.8 419.1,291.5 C423.6,293.2 431.4,294.3 436.2,293.2 C441.0,292.1 446.3,291.2 448.0,284.7 C449.7,278.2 447.5,260.0 446.4,254.0 C445.3,248.0 442.1,249.8 441.3,248.9" fill="none" stroke="#d9848b" stroke-width="0.9" stroke-linecap="round"/>
<path d="M374.9,325.5 C379.4,324.9 387.9,325.2 402.1,322.1 C416.3,319.0 450.4,309.4 460.0,306.8" fill="none" stroke="#d9848b" stroke-width="0.9" stroke-linecap="round"/>
<path d="M440.0,307.2 C446.6,306.9 466.5,306.9 479.7,305.2 C492.9,303.5 508.8,297.9 519.4,297.2 C530.0,296.5 535.0,302.2 543.3,301.2 C551.6,300.2 564.8,292.9 569.1,291.3" fill="none" stroke="#d9848b" stroke-width="0.9" stroke-linecap="round"/>
<path d="M525.4,228.7 C525.4,230.8 524.1,237.1 525.4,241.6 C526.7,246.1 531.0,251.5 533.3,255.5 C535.6,259.5 539.0,261.2 539.3,265.5 C539.6,269.8 536.0,278.8 535.3,281.4" fill="none" stroke="#d9848b" stroke-width="0.9" stroke-linecap="round"/>
<path d="M579.0,232.7 C580.3,235.5 585.7,243.5 587.0,249.6 C588.3,255.7 588.3,262.1 587.0,269.4 C585.7,276.7 580.3,289.3 579.0,293.3" fill="none" stroke="#d9848b" stroke-width="0.9" stroke-linecap="round"/>
<path d="M495.6,255.5 C493.0,257.2 484.7,262.5 479.7,265.5 C474.7,268.5 468.1,272.1 465.8,273.4" fill="none" stroke="#d9848b" stroke-width="0.9" stroke-linecap="round"/>
<path d="M559.2,255.5 C559.9,257.8 563.8,263.8 563.1,269.4 C562.4,275.0 556.5,286.0 555.2,289.3" fill="none" stroke="#d9848b" stroke-width="0.9" stroke-linecap="round"/>
<path d="M602.9,269.4 C604.5,272.0 612.5,280.7 612.8,285.3 C613.1,289.9 606.1,295.2 604.8,297.2" fill="none" stroke="#d9848b" stroke-width="0.9" stroke-linecap="round"/>
<path d="M460.0,232.0 C461.7,235.0 465.0,247.0 470.0,250.0 C475.0,253.0 485.0,251.7 490.0,250.0 C495.0,248.3 498.3,241.7 500.0,240.0" fill="none" stroke="#d9848b" stroke-width="0.9" stroke-linecap="round"/>
<path d="M620.0,250.0 C620.8,254.2 621.7,268.3 625.0,275.0 C628.3,281.7 637.5,287.5 640.0,290.0" fill="none" stroke="#d9848b" stroke-width="0.9" stroke-linecap="round"/>
<path d="M645.0,300.0 C642.5,303.3 635.0,313.3 630.0,320.0 C625.0,326.7 617.5,336.7 615.0,340.0" fill="none" stroke="#d9848b" stroke-width="0.9" stroke-linecap="round"/>
<path d="M560.0,320.0 C565.0,321.7 583.3,325.8 590.0,330.0 C596.7,334.2 598.3,342.5 600.0,345.0" fill="none" stroke="#d9848b" stroke-width="0.9" stroke-linecap="round"/>
<path d="M520.0,320.0 C524.2,321.7 540.8,328.3 545.0,330.0" fill="none" stroke="#d9848b" stroke-width="0.9" stroke-linecap="round"/>
<path d="M600.0,300.0 C605.0,301.7 620.0,310.0 630.0,310.0 C640.0,310.0 655.0,301.7 660.0,300.0" fill="none" stroke="#d9848b" stroke-width="0.9" stroke-linecap="round"/>
<path d="M690.0,300.0 C691.7,303.3 695.0,312.5 700.0,320.0 C705.0,327.5 716.7,340.8 720.0,345.0" fill="none" stroke="#d9848b" stroke-width="0.9" stroke-linecap="round"/>
<path d="M660.0,330.0 C665.0,330.8 682.5,330.0 690.0,335.0 C697.5,340.0 702.5,355.8 705.0,360.0" fill="none" stroke="#d9848b" stroke-width="0.9" stroke-linecap="round"/>
<path d="M630.0,380.0 C631.7,383.3 639.0,393.3 640.0,400.0 C641.0,406.7 636.7,416.7 636.0,420.0" fill="none" stroke="#d9848b" stroke-width="0.9" stroke-linecap="round"/>
<path d="M600.0,430.0 C603.3,429.2 612.5,423.8 620.0,425.0 C627.5,426.2 640.8,435.0 645.0,437.0" fill="none" stroke="#d9848b" stroke-width="0.9" stroke-linecap="round"/>
<path d="M300.6,336.3 Q297.6,343.3 305.1,342.0 Q304.2,338.1 300.6,336.3Z" fill="#fbf0f0" opacity="0.95"/>
<path d="M275.6,377.1 Q272.6,383.5 279.0,380.5 Q278.5,377.6 275.6,377.1Z" fill="#fbf0f0" opacity="0.95"/>
<path d="M325.5,345.4 Q327.0,355.2 336.9,354.4 Q332.3,348.6 325.5,345.4Z" fill="#fbf0f0" opacity="0.95"/>
<path d="M318.7,413.4 Q320.2,421.7 327.8,418.0 Q324.0,414.2 318.7,413.4Z" fill="#fbf0f0" opacity="0.95"/>
<path d="M345.0,410.0 Q346.0,420.0 356.0,420.0 Q351.6,413.7 345.0,410.0Z" fill="#fbf0f0" opacity="0.95"/>
<path d="M388.5,247.2 Q397.7,255.5 409.0,250.6 Q399.0,247.2 388.5,247.2Z" fill="#fbf0f0" opacity="0.95"/>
<path d="M407.0,276.0 Q403.4,282.7 411.0,282.0 Q410.4,278.1 407.0,276.0Z" fill="#fbf0f0" opacity="0.95"/>
<path d="M351.0,305.1 Q353.8,315.6 364.7,315.3 Q358.9,308.8 351.0,305.1Z" fill="#fbf0f0" opacity="0.95"/>
<path d="M402.1,318.7 Q413.4,323.6 422.6,315.3 Q412.1,315.3 402.1,318.7Z" fill="#fbf0f0" opacity="0.95"/>
<path d="M419.1,288.1 Q419.3,295.9 426.0,292.0 Q423.4,288.6 419.1,288.1Z" fill="#fbf0f0" opacity="0.95"/>
<path d="M500.0,243.0 Q506.2,251.1 515.0,246.0 Q507.8,242.8 500.0,243.0Z" fill="#fbf0f0" opacity="0.95"/>
<path d="M455.0,298.0 Q461.6,305.6 470.0,300.0 Q462.7,297.3 455.0,298.0Z" fill="#fbf0f0" opacity="0.95"/>
<path d="M548.0,242.0 Q546.8,251.2 556.0,252.0 Q553.3,245.9 548.0,242.0Z" fill="#fbf0f0" opacity="0.95"/>
<path d="M590.0,258.0 Q585.6,266.1 594.0,270.0 Q593.6,263.5 590.0,258.0Z" fill="#fbf0f0" opacity="0.95"/>
<path d="M520.0,288.0 Q523.7,295.6 530.0,290.0 Q525.3,287.3 520.0,288.0Z" fill="#fbf0f0" opacity="0.95"/>
<path d="M640.0,270.0 Q638.8,279.2 648.0,280.0 Q645.3,273.9 640.0,270.0Z" fill="#fbf0f0" opacity="0.95"/>
<path d="M700.0,328.0 Q697.0,337.0 706.0,340.0 Q704.5,333.2 700.0,328.0Z" fill="#fbf0f0" opacity="0.95"/>
<path d="M600.0,350.0 Q601.7,360.1 612.0,360.0 Q607.1,353.7 600.0,350.0Z" fill="#fbf0f0" opacity="0.95"/>
<path d="M660.0,300.0 Q663.4,308.7 672.0,305.0 Q666.7,300.9 660.0,300.0Z" fill="#fbf0f0" opacity="0.95"/>
<path d="M310.0,383.0 Q312.4,390.5 318.0,385.0 Q314.4,382.4 310.0,383.0Z" fill="#fbf0f0" opacity="0.95"/>
<path d="M330.0,430.0 Q337.8,439.8 350.0,437.0 Q340.6,431.9 330.0,430.0Z" fill="#fbf0f0" opacity="0.95"/>
</g>
<path d="M680.7,427.6 C679.6,424.6 677.3,417.0 673.9,409.4 C670.5,401.8 665.6,391.7 660.3,382.2 C655.0,372.7 649.8,362.5 642.2,352.6 C634.6,342.8 624.8,331.0 614.9,323.1 C605.0,315.2 594.8,311.0 583.1,305.0 C571.5,299.0 555.7,290.8 545.0,287.0 C534.3,283.2 530.9,283.8 519.0,282.4 C507.1,281.0 487.0,278.7 473.8,278.4 C460.6,278.1 451.5,278.5 440.0,280.4 C428.5,282.3 416.8,285.1 405.0,289.6 C393.2,294.1 379.2,300.0 369.3,307.4 C359.4,314.8 350.2,323.1 345.5,334.0 C340.8,344.9 341.2,363.3 341.0,373.0 C340.8,382.7 341.6,385.7 344.0,392.0 C346.4,398.3 349.8,405.7 355.5,411.0 C361.2,416.3 371.1,421.3 378.5,423.8 C385.9,426.3 383.1,425.5 400.0,426.0 C416.9,426.5 462.5,424.7 480.0,427.0 C497.5,429.3 500.8,437.8 505.0,440.0" fill="none" stroke="#4a3a8a" stroke-width="2.5" stroke-linecap="round" stroke-linejoin="round"/>
<line x1="680.7" y1="427.6" x2="688.5" y2="430.9" stroke="#4a3a8a" stroke-width="2.5" stroke-linecap="round"/>
<line x1="680.7" y1="427.6" x2="678.2" y2="435.7" stroke="#4a3a8a" stroke-width="2.5" stroke-linecap="round"/>
<path d="M583.0,305.0 C587.8,302.5 604.7,294.4 612.0,290.0 C619.3,285.6 624.2,280.3 626.7,278.4" fill="none" stroke="#4a3a8a" stroke-width="2.5" stroke-linecap="round" stroke-linejoin="round"/>
<line x1="626.7" y1="278.4" x2="627.9" y2="270.0" stroke="#4a3a8a" stroke-width="2.5" stroke-linecap="round"/>
<line x1="626.7" y1="278.4" x2="635.2" y2="278.7" stroke="#4a3a8a" stroke-width="2.5" stroke-linecap="round"/>
<path d="M348.5,331.0 C347.4,327.8 344.4,317.3 342.0,312.0 C339.6,306.7 335.3,301.2 334.0,299.0" fill="none" stroke="#4a3a8a" stroke-width="2.5" stroke-linecap="round" stroke-linejoin="round"/>
<line x1="334" y1="299" x2="326.5" y2="295.0" stroke="#4a3a8a" stroke-width="2.5" stroke-linecap="round"/>
<line x1="334" y1="299" x2="337.2" y2="291.1" stroke="#4a3a8a" stroke-width="2.5" stroke-linecap="round"/>
<path d="M396.0,328.0 C397.0,323.0 401.5,306.8 402.0,298.0 C402.5,289.2 399.5,278.8 399.0,275.0" fill="none" stroke="#4a3a8a" stroke-width="2.5" stroke-linecap="round" stroke-linejoin="round"/>
<line x1="399" y1="275" x2="392.8" y2="269.2" stroke="#4a3a8a" stroke-width="2.5" stroke-linecap="round"/>
<line x1="399" y1="275" x2="404.1" y2="268.2" stroke="#4a3a8a" stroke-width="2.5" stroke-linecap="round"/>
<path d="M363.0,385.0 C364.0,379.0 364.0,358.0 369.0,349.0 C374.0,340.0 383.0,335.0 393.0,331.0 C403.0,327.0 413.2,326.0 429.0,325.0 C444.8,324.0 469.5,322.5 488.0,325.0 C506.5,327.5 525.7,335.0 540.0,340.0 C554.3,345.0 565.3,350.1 574.0,354.9 C582.7,359.6 586.9,362.8 592.2,368.5 C597.5,374.2 602.5,382.9 605.8,389.0 C609.1,395.1 611.0,401.6 612.0,405.0 C613.0,408.4 611.6,408.7 611.5,409.4" fill="none" stroke="#4a3a8a" stroke-width="2.5" stroke-linecap="round" stroke-linejoin="round"/>
<line x1="611.5" y1="409.4" x2="615.4" y2="417.0" stroke="#4a3a8a" stroke-width="2.5" stroke-linecap="round"/>
<line x1="611.5" y1="409.4" x2="604.4" y2="414.0" stroke="#4a3a8a" stroke-width="2.5" stroke-linecap="round"/>
<path d="M364.5,360.0 C364.5,364.2 363.0,378.5 364.5,385.5 C366.0,392.5 368.5,397.0 373.4,402.1 C378.3,407.2 387.2,412.4 393.8,416.2 C400.4,420.0 405.3,423.4 413.0,425.1 C420.7,426.8 435.5,426.3 440.0,426.5" fill="none" stroke="#4a3a8a" stroke-width="2.5" stroke-linecap="round" stroke-linejoin="round"/>
<path d="M458.7,277.6 C459.9,274.7 464.0,265.2 466.0,260.0 C468.0,254.8 469.8,248.7 470.6,246.4" fill="none" stroke="#4a3a8a" stroke-width="2.5" stroke-linecap="round" stroke-linejoin="round"/>
<line x1="470.6" y1="246.4" x2="466.7" y2="238.8" stroke="#4a3a8a" stroke-width="2.5" stroke-linecap="round"/>
<line x1="470.6" y1="246.4" x2="477.7" y2="241.8" stroke="#4a3a8a" stroke-width="2.5" stroke-linecap="round"/>
<path d="M476.5,326.8 C480.9,323.0 497.1,313.1 503.0,304.0 C508.9,294.9 510.5,277.3 512.0,272.0" fill="none" stroke="#4a3a8a" stroke-width="2.5" stroke-linecap="round" stroke-linejoin="round"/>
<line x1="512" y1="272" x2="507.5" y2="264.8" stroke="#4a3a8a" stroke-width="2.5" stroke-linecap="round"/>
<line x1="512" y1="272" x2="518.7" y2="266.8" stroke="#4a3a8a" stroke-width="2.5" stroke-linecap="round"/>
<path d="M363.0,385.0 C360.6,383.5 354.9,377.8 348.5,376.0 C342.1,374.2 333.4,373.7 324.7,374.4 C316.0,375.1 301.1,379.4 296.4,380.4" fill="none" stroke="#4a3a8a" stroke-width="2.5" stroke-linecap="round" stroke-linejoin="round"/>
<line x1="296.4" y1="380.4" x2="291.2" y2="387.1" stroke="#4a3a8a" stroke-width="2.5" stroke-linecap="round"/>
<line x1="296.4" y1="380.4" x2="289.2" y2="375.9" stroke="#4a3a8a" stroke-width="2.5" stroke-linecap="round"/>
<path d="M337.7,443.6 C340.7,441.6 348.9,434.6 355.5,431.5 C362.1,428.4 368.1,426.1 377.2,425.1 C386.3,424.1 404.5,425.4 410.0,425.5" fill="none" stroke="#4a3a8a" stroke-width="2.5" stroke-linecap="round" stroke-linejoin="round"/>
<line x1="337.7" y1="443.6" x2="332.5" y2="450.3" stroke="#4a3a8a" stroke-width="2.5" stroke-linecap="round"/>
<line x1="337.7" y1="443.6" x2="330.5" y2="439.1" stroke="#4a3a8a" stroke-width="2.5" stroke-linecap="round"/>
<path d="M410.8,484.8 C414.5,480.8 424.7,468.5 433.0,460.8 C441.3,453.1 450.5,443.4 460.6,438.7 C470.7,433.9 486.4,432.1 493.8,432.3 C501.2,432.5 503.1,438.7 505.0,440.0" fill="none" stroke="#4a3a8a" stroke-width="2.5" stroke-linecap="round" stroke-linejoin="round"/>
<line x1="410.8" y1="484.8" x2="410.4" y2="493.3" stroke="#4a3a8a" stroke-width="2.5" stroke-linecap="round"/>
<line x1="410.8" y1="484.8" x2="402.3" y2="485.2" stroke="#4a3a8a" stroke-width="2.5" stroke-linecap="round"/>
<path d="M445.3,376.0 C445.8,380.0 445.6,392.2 448.0,400.0 C450.4,407.8 450.5,416.3 460.0,423.0 C469.5,429.7 497.5,437.2 505.0,440.0" fill="none" stroke="#4a3a8a" stroke-width="2.5" stroke-linecap="round" stroke-linejoin="round"/>
<line x1="445.3" y1="376" x2="439.6" y2="369.7" stroke="#4a3a8a" stroke-width="2.5" stroke-linecap="round"/>
<line x1="445.3" y1="376" x2="451.0" y2="369.7" stroke="#4a3a8a" stroke-width="2.5" stroke-linecap="round"/>
<path d="M500.0,440.0 C494.5,436.2 472.7,424.8 467.0,417.0 C461.3,409.2 462.8,399.0 466.0,393.0 C469.2,387.0 478.7,381.5 486.0,381.0 C493.3,380.5 504.2,386.0 510.0,390.0 C515.8,394.0 519.2,402.5 521.0,405.0" fill="none" stroke="#4a3a8a" stroke-width="2.5" stroke-linecap="round" stroke-linejoin="round"/>
<line x1="521" y1="405" x2="529.1" y2="407.6" stroke="#4a3a8a" stroke-width="2.5" stroke-linecap="round"/>
<line x1="521" y1="405" x2="519.2" y2="413.3" stroke="#4a3a8a" stroke-width="2.5" stroke-linecap="round"/>
<path d="M592.2,367.4 C596.0,367.6 606.6,370.2 614.9,368.5 C623.2,366.8 634.6,361.0 642.2,357.2 C649.8,353.4 656.7,348.3 660.3,345.8 C663.9,343.3 663.1,343.0 663.7,342.4" fill="none" stroke="#4a3a8a" stroke-width="2.5" stroke-linecap="round" stroke-linejoin="round"/>
<line x1="663.7" y1="342.4" x2="664.9" y2="334.0" stroke="#4a3a8a" stroke-width="2.5" stroke-linecap="round"/>
<line x1="663.7" y1="342.4" x2="672.2" y2="342.7" stroke="#4a3a8a" stroke-width="2.5" stroke-linecap="round"/>
<path d="M646.7,361.7 C650.1,365.1 660.3,377.3 667.1,382.2 C673.9,387.1 681.6,389.3 687.6,391.2 C693.6,393.1 698.5,393.5 703.4,393.5 C708.3,393.5 714.8,391.6 717.1,391.2" fill="none" stroke="#4a3a8a" stroke-width="2.5" stroke-linecap="round" stroke-linejoin="round"/>
<line x1="717.1" y1="391.2" x2="722.3" y2="384.5" stroke="#4a3a8a" stroke-width="2.5" stroke-linecap="round"/>
<line x1="717.1" y1="391.2" x2="724.3" y2="395.7" stroke="#4a3a8a" stroke-width="2.5" stroke-linecap="round"/>
<path d="M500.0,438.0 C504.2,439.9 518.2,443.4 525.5,449.7 C532.8,456.0 537.8,469.4 544.0,476.0 C550.2,482.6 553.7,485.8 563.0,489.0 C572.3,492.2 592.2,490.8 600.0,495.0 C607.8,499.2 608.9,507.0 610.0,514.0 C611.1,521.0 607.2,533.2 606.7,537.0" fill="none" stroke="#4a3a8a" stroke-width="2.5" stroke-linecap="round" stroke-linejoin="round"/>
<line x1="606.7" y1="537" x2="611.8" y2="543.8" stroke="#4a3a8a" stroke-width="2.5" stroke-linecap="round"/>
<line x1="606.7" y1="537" x2="600.5" y2="542.8" stroke="#4a3a8a" stroke-width="2.5" stroke-linecap="round"/>
<path d="M527.0,487.0 C528.8,485.4 532.5,478.5 538.0,477.7 C543.5,476.9 552.2,479.8 560.0,482.4 C567.8,484.9 578.3,493.4 585.0,493.0 C591.7,492.6 597.4,484.4 600.0,480.0 C602.6,475.6 600.3,469.0 600.4,466.8" fill="none" stroke="#4a3a8a" stroke-width="2.5" stroke-linecap="round" stroke-linejoin="round"/>
<line x1="600.4" y1="466.8" x2="595.9" y2="459.6" stroke="#4a3a8a" stroke-width="2.5" stroke-linecap="round"/>
<line x1="600.4" y1="466.8" x2="607.1" y2="461.6" stroke="#4a3a8a" stroke-width="2.5" stroke-linecap="round"/>
<path d="M525.5,449.7 C525.8,455.9 528.0,478.9 527.0,487.0 C526.0,495.1 520.4,491.8 519.3,498.0 C518.2,504.2 517.6,512.0 520.2,524.0 C522.8,536.0 531.0,558.0 535.0,570.0 C539.0,582.0 542.8,591.7 544.3,596.0" fill="none" stroke="#4a3a8a" stroke-width="2.5" stroke-linecap="round" stroke-linejoin="round"/>
<path d="M520.2,510.5 C522.2,517.1 527.0,537.1 532.0,550.0 C537.0,562.9 547.4,581.7 550.5,588.0" fill="none" stroke="#4a3a8a" stroke-width="2.5" stroke-linecap="round" stroke-linejoin="round"/>
<path d="M534.0,539.5 C538.6,547.9 556.8,581.3 561.4,589.7" fill="none" stroke="#4a3a8a" stroke-width="2.5" stroke-linecap="round" stroke-linejoin="round"/>
<path d="M527.0,487.0 C528.3,489.2 532.4,496.6 535.0,500.0 C537.6,503.4 541.4,506.2 542.7,507.4" fill="none" stroke="#4a3a8a" stroke-width="2.5" stroke-linecap="round" stroke-linejoin="round"/>
<line x1="542.7" y1="507.4" x2="546.7" y2="499.9" stroke="#4a3a8a" stroke-width="2.5" stroke-linecap="round"/>
<line x1="542.7" y1="507.4" x2="550.6" y2="510.6" stroke="#4a3a8a" stroke-width="2.5" stroke-linecap="round"/>
<path d="M545.0,480.0 C545.5,484.2 546.6,498.1 548.0,505.0 C549.4,511.9 552.7,518.7 553.6,521.4" fill="none" stroke="#4a3a8a" stroke-width="2.5" stroke-linecap="round" stroke-linejoin="round"/>
<line x1="553.6" y1="521.4" x2="561.7" y2="524.0" stroke="#4a3a8a" stroke-width="2.5" stroke-linecap="round"/>
<line x1="553.6" y1="521.4" x2="551.8" y2="529.7" stroke="#4a3a8a" stroke-width="2.5" stroke-linecap="round"/>
<polygon points="544.3,598.5 535.7,591.0 541.9,591.9 546.0,587.2" fill="#4a3a8a"/>
<polygon points="550.5,590.5 540.7,584.6 547.0,584.4 550.3,579.1" fill="#4a3a8a"/>
<polygon points="561.4,591.7 551.4,586.1 557.7,585.8 560.8,580.3" fill="#4a3a8a"/>
<ellipse cx="527.1" cy="451.2" rx="11" ry="8" transform="rotate(35 527.1 451.2)" fill="#55b6ba" opacity="0.88"/>
<ellipse cx="528.7" cy="501" rx="8" ry="16" transform="rotate(5 528.7 501)" fill="#55b6ba" opacity="0.88"/>
<ellipse cx="517.7" cy="495" rx="6" ry="8" transform="rotate(0 517.7 495)" fill="#55b6ba" opacity="0.88"/>
<ellipse cx="519.3" cy="523" rx="6" ry="13" transform="rotate(0 519.3 523)" fill="#55b6ba" opacity="0.88"/>
<ellipse cx="535" cy="538.6" rx="8" ry="16" transform="rotate(-12 535 538.6)" fill="#55b6ba" opacity="0.88"/>
<circle cx="525.5" cy="449.7" r="3.8" fill="#4a3a8a"/>
<circle cx="527.1" cy="487.1" r="3.8" fill="#4a3a8a"/>
<circle cx="519.3" cy="498" r="3.8" fill="#4a3a8a"/>
<circle cx="520.2" cy="510.5" r="3.8" fill="#4a3a8a"/>
<circle cx="520.2" cy="516.8" r="3.8" fill="#4a3a8a"/>
<circle cx="520.2" cy="524" r="3.8" fill="#4a3a8a"/>
<circle cx="534" cy="539.5" r="3.8" fill="#4a3a8a"/>
<path d="M495.5,445 C499,441 508,441 513,452 C516,459 515,468 510,468.5 C505,467 502,461 499,454 C497,450 494.5,447 495.5,445Z" fill="#8d3070"/>
<path d="M505.0,447.0 C497.4,441.7 471.9,425.3 459.7,415.0 C447.5,404.7 436.3,393.2 432.0,385.0 C427.7,376.8 433.2,370.2 434.0,366.0 C434.8,361.8 436.5,361.0 437.0,360.0" fill="none" stroke="#7a3593" stroke-width="2.5" stroke-linecap="round" stroke-linejoin="round"/>
<polygon points="439.0,357.0 440.7,368.3 436.6,363.6 430.4,364.5" fill="#7a3593"/>
<path d="M505.0,447.0 C504.7,442.3 505.6,428.2 503.0,419.0 C500.4,409.8 494.4,399.1 489.5,391.5 C484.6,383.9 476.5,377.9 473.6,373.6 C470.7,369.4 472.3,367.3 472.0,366.0" fill="none" stroke="#7a3593" stroke-width="2.5" stroke-linecap="round" stroke-linejoin="round"/>
<polygon points="472.0,362.0 478.4,371.5 472.6,369.0 467.4,372.4" fill="#7a3593"/>
<path d="M513.0,441.0 C518.0,434.0 539.3,407.6 543.0,399.0 C546.7,390.4 539.7,393.1 535.0,389.5 C530.3,385.9 519.0,380.7 515.0,377.6 C511.0,374.5 511.7,372.1 511.0,371.0" fill="none" stroke="#7a3593" stroke-width="2.5" stroke-linecap="round" stroke-linejoin="round"/>
<polygon points="510.0,367.0 518.6,374.5 512.4,373.6 508.3,378.3" fill="#7a3593"/>
<path d="M362,463 A69.3,69.3 0 0 1 318,449 A36.0,36.0 0 0 1 290,438.3 A34.4,34.4 0 0 1 272.9,408.5 A29.5,29.5 0 0 1 274,368.1 A23.7,23.7 0 0 1 281.4,334 A10.3,10.3 0 0 1 283.5,321.3 A10.7,10.7 0 0 1 293.4,312.3 A16.2,16.2 0 0 1 304,296.7 A9.7,9.7 0 0 1 312.6,288.2 A31.2,31.2 0 0 1 348.7,267.6 A18.7,18.7 0 0 1 370.7,248.4 A41.4,41.4 0 0 1 412,236 A50.9,50.9 0 0 1 459.9,232.7 A87.8,87.8 0 0 1 523.4,228.7 A37.0,37.0 0 0 1 557,229 A123.4,123.4 0 0 1 621.3,252.7 A35.5,35.5 0 0 1 653.9,272.6 A166.4,166.4 0 0 1 734.8,371.8 A153.3,153.3 0 0 1 753,455 A58.1,58.1 0 0 1 731,503 A48.6,48.6 0 0 1 681,506 A27.9,27.9 0 0 1 689,540 A42.7,42.7 0 0 1 662,579 A125.7,125.7 0 0 1 581.7,603 L583.7,640 L547,640 L533,587 L512,545 L490,523 A79.8,79.8 0 0 1 428.6,522.7 A62.3,62.3 0 0 1 386,500.7 A53.6,53.6 0 0 1 362,463Z" fill="none" stroke="#d9808a" stroke-width="1.3"/>
<rect x="520" y="600" width="80" height="42" fill="url(#fade)"/>
<g clip-path="url(#bc)">
<path d="M645.0,252.0 C651.2,253.9 688.3,282.2 700.0,296.0 C711.7,309.8 743.3,361.0 745.0,370.0 C746.7,379.0 719.7,370.3 714.8,373.0 C709.9,375.7 706.6,388.5 703.4,393.5 C700.2,398.5 692.4,412.5 687.6,416.2 C682.8,419.9 669.8,424.8 662.6,425.3 C655.4,425.8 631.9,422.8 626.3,420.7 C620.7,418.6 616.0,414.2 614.9,407.1 C613.8,400.0 614.8,368.0 617.2,359.5 C619.6,351.0 631.6,340.3 635.3,334.5 C639.0,328.7 647.6,315.9 649.0,309.5 C650.4,303.1 647.5,286.7 647.0,280.0 C646.5,273.3 638.8,250.1 645.0,252.0Z" fill="#c9676c" opacity="0.3"/>
<path d="M667.1,309.5 C668.2,308.1 675.3,305.1 678.5,307.2 C681.7,309.2 695.0,325.2 698.9,330.0 C702.8,334.8 715.0,351.9 717.0,354.9 C719.0,357.8 720.7,357.5 719.3,359.5 C717.9,361.5 706.6,372.1 703.4,375.3 C700.2,378.5 690.8,388.9 687.6,391.2 C684.4,393.5 676.2,397.8 671.7,398.0 C667.2,398.2 644.7,396.2 642.2,393.5 C639.7,390.8 644.4,376.0 646.7,370.8 C649.0,365.6 662.9,346.3 664.9,341.3 C666.9,336.3 666.9,324.1 667.1,320.9 C667.3,317.7 666.0,310.9 667.1,309.5Z" fill="#b0484e" opacity="0.36"/>
<path d="M676.2,337.9 C677.3,338.5 683.3,343.6 685.3,345.8 C687.3,348.0 695.5,357.7 696.6,359.5 C697.7,361.3 697.7,362.2 696.6,364.0 C695.5,365.8 688.2,376.0 685.3,377.6 C682.3,379.2 669.1,380.6 667.1,379.9 C665.1,379.2 664.4,373.5 664.9,370.8 C665.4,368.1 670.8,355.7 671.7,352.6 C672.6,349.5 673.4,341.7 673.9,340.2 C674.4,338.7 675.1,337.3 676.2,337.9Z" fill="#a83a40" opacity="0.6"/>
</g>
<rect x="410" y="329.1" width="125" height="23.5" fill="#ffffff" opacity="0.8"/>
<text x="423.6" y="348.6" font-size="18.5" font-weight="normal" fill="#1a1a1a" text-anchor="start" textLength="97" lengthAdjust="spacingAndGlyphs">To striatum</text>
<text x="540.3" y="206.9" font-size="18.5" font-weight="normal" fill="#1a1a1a" text-anchor="start" textLength="87.4" lengthAdjust="spacingAndGlyphs">Precuneus</text>
<polyline points="637,205 690.3,223.7 690.3,326" fill="none" stroke="#555" stroke-width="1"/>
<polyline points="413,408.5 408,408.5 408,563" fill="none" stroke="#7a7a7a" stroke-width="1.3"/>
<text x="344.4" y="589" font-size="18.5" font-weight="normal" fill="#1a1a1a" text-anchor="start" textLength="170" lengthAdjust="spacingAndGlyphs">Nucleus accumbens</text>
<path d="M734,346 C732,322 745,300 763,293" pathLength="100" fill="none" stroke="#3a3a3a" stroke-width="0.7"/>
<path d="M734,346 C732,322 745,300 763,293" pathLength="100" fill="none" stroke="#3a3a3a" stroke-width="1.4" stroke-dasharray="0 30 70 1"/>
<path d="M734,346 C732,322 745,300 763,293" pathLength="100" fill="none" stroke="#3a3a3a" stroke-width="2.1" stroke-dasharray="0 60 40 1"/>
<path d="M733,502 C733,525 745,545 763,555" pathLength="100" fill="none" stroke="#3a3a3a" stroke-width="0.7"/>
<path d="M733,502 C733,525 745,545 763,555" pathLength="100" fill="none" stroke="#3a3a3a" stroke-width="1.4" stroke-dasharray="0 30 70 1"/>
<path d="M733,502 C733,525 745,545 763,555" pathLength="100" fill="none" stroke="#3a3a3a" stroke-width="2.1" stroke-dasharray="0 60 40 1"/>
<polygon points="768.0,290.5 761.3,298.0 762.2,292.9 758.0,289.7" fill="#3a3a3a"/>
<polygon points="768.0,557.3 757.9,557.6 762.3,554.6 761.7,549.4" fill="#3a3a3a"/>
<defs><clipPath id="bb"><rect x="774.5" y="58.4" width="254.7" height="307.1"/></clipPath></defs>
<rect x="774.5" y="58.4" width="254.7" height="307.1" fill="#fff"/>
<g clip-path="url(#bb)">
<path d="M770,301 C785,298 800,298 820,306 C850,318 870,326 900,326.5 C935,326 960,312 985,300 C1000,293 1015,289 1035,286 L1035,370 L770,370Z" fill="#f0ddef"/>
<path d="M770,301 C785,298 800,298 820,306 C850,318 870,326 900,326.5 C935,326 960,312 985,300 C1000,293 1015,289 1035,286" fill="none" stroke="#c27cbc" stroke-width="3.7"/>
<path d="M862,50 C862,70 862,95 859,110 C854,135 835,152 825,170 C815,185 812,200 815,212 C818,226 835,231 849,232 C849,224 854,217 861,216.5 C868,217 873,224 873,233 C885,236 905,237 925,236 C945,234 962,228 975,218 C985,210 988,200 985,190 C980,175 965,160 950,140 C935,120 924,100 921,80 C919,65 918,55 918,50 Z" fill="#f0ddef" stroke="#c27cbc" stroke-width="3.7"/>
</g>
<rect x="774.5" y="58.4" width="254.7" height="307.1" fill="none" stroke="#1a1a1a" stroke-width="1.5"/>
<circle cx="902.3" cy="123" r="12.3" fill="#fff" stroke="#c27cbc" stroke-width="3.3"/>
<circle cx="895.5" cy="121.5" r="3.2" fill="#8a5aa4"/>
<circle cx="907.3" cy="119.2" r="3.2" fill="#8a5aa4"/>
<circle cx="902.8" cy="128.3" r="3.2" fill="#8a5aa4"/>
<circle cx="868" cy="170.3" r="12.3" fill="#fff" stroke="#c27cbc" stroke-width="3.3"/>
<circle cx="865.3" cy="165.8" r="3.2" fill="#8a5aa4"/>
<circle cx="874" cy="172.6" r="3.2" fill="#8a5aa4"/>
<circle cx="865.3" cy="174.4" r="3.2" fill="#8a5aa4"/>
<circle cx="921.6" cy="173.7" r="3.6" fill="#8a5aa4"/>
<circle cx="861" cy="230.8" r="3.8" fill="#8753a3"/>
<circle cx="835" cy="244.4" r="3.8" fill="#b28ac6"/>
<circle cx="871.3" cy="248.2" r="3.8" fill="#8753a3"/>
<circle cx="857.5" cy="263.5" r="3.8" fill="#8753a3"/>
<circle cx="914.7" cy="260.2" r="3.8" fill="#8753a3"/>
<circle cx="832.5" cy="279.3" r="3.8" fill="#b28ac6"/>
<circle cx="879" cy="285" r="3.8" fill="#b28ac6"/>
<circle cx="927.6" cy="279.3" r="3.8" fill="#8753a3"/>
<circle cx="984.2" cy="248.2" r="3.8" fill="#8753a3"/>
<circle cx="949.8" cy="262.7" r="3.8" fill="#8753a3"/>
<circle cx="977.8" cy="278" r="3.8" fill="#b28ac6"/>
<circle cx="942.9" cy="292.8" r="3.8" fill="#8753a3"/>
<g transform="rotate(-24 954.5 229)">
<path d="M948,219 L961,219 L961,240 L948,240Z" fill="#a27bcb" stroke="#7e58a8" stroke-width="0.8" stroke-dasharray="1.5,1"/>
<rect x="940" y="213.5" width="9.5" height="31" rx="4.7" fill="#bd98de" stroke="#9a74c4" stroke-width="0.8" stroke-dasharray="1.5,1"/>
<rect x="959.5" y="213.5" width="9.5" height="31" rx="4.7" fill="#bd98de" stroke="#9a74c4" stroke-width="0.8" stroke-dasharray="1.5,1"/>
</g>
<g transform="rotate(15 851 301.5)">
<line x1="851" y1="309.1" x2="851" y2="328.1" stroke="#3f3b85" stroke-width="2.1"/>
<path d="M843.7,299.5 A7.6,7.6 0 1 0 858.3,299.5" fill="none" stroke="#5a56a8" stroke-width="3.8" stroke-linecap="round"/>
<circle cx="851" cy="301.5" r="4.3" fill="#8a4fa0" stroke="#fff" stroke-width="0.9"/>
</g>
<g transform="rotate(0 896.7 307.5)">
<line x1="896.7" y1="315.1" x2="896.7" y2="336.6" stroke="#3f3b85" stroke-width="2.1"/>
<path d="M889.4,305.5 A7.6,7.6 0 1 0 904.0,305.5" fill="none" stroke="#5a56a8" stroke-width="3.8" stroke-linecap="round"/>
<circle cx="896.7" cy="307.5" r="4.3" fill="#8a4fa0" stroke="#fff" stroke-width="0.9"/>
</g>
<g transform="rotate(-20 942 300.5)">
<line x1="942" y1="308.1" x2="942" y2="328.1" stroke="#3f3b85" stroke-width="2.1"/>
<path d="M934.7,298.5 A7.6,7.6 0 1 0 949.3,298.5" fill="none" stroke="#5a56a8" stroke-width="3.8" stroke-linecap="round"/>
</g>
<polyline points="807.4,153.3 815.4,169 855,169" fill="none" stroke="#555" stroke-width="1"/>
<polyline points="907.3,118 911.8,101 940,101" fill="none" stroke="#555" stroke-width="1"/>
<polyline points="965.8,180.5 949.4,189 949.4,221" fill="none" stroke="#555" stroke-width="1"/>
<line x1="931.9" y1="331.6" x2="907.7" y2="313.8" stroke="#333" stroke-width="1"/>
<text x="941" y="105.6" font-size="18.5" font-weight="normal" fill="#1a1a1a" text-anchor="start" textLength="84" lengthAdjust="spacingAndGlyphs">DA1/5-HT</text>
<text x="776.8" y="142.6" font-size="18.5" font-weight="normal" fill="#1a1a1a" text-anchor="start" textLength="60" lengthAdjust="spacingAndGlyphs">Vesicle</text>
<text x="926" y="169.6" font-size="18.5" font-weight="normal" fill="#1a1a1a" text-anchor="start" textLength="98" lengthAdjust="spacingAndGlyphs">Transporter</text>
<text x="859.7" y="212.7" font-size="18.5" font-weight="normal" fill="#1a1a1a" text-anchor="start" textLength="85.4" lengthAdjust="spacingAndGlyphs">DAT/5-HT</text>
<text x="924.2" y="348.2" font-size="18.5" font-weight="normal" fill="#1a1a1a" text-anchor="start" textLength="84.2" lengthAdjust="spacingAndGlyphs">Receptors</text>
<rect x="774.6" y="438.4" width="254.8" height="206.2" fill="#fff" stroke="#1a1a1a" stroke-width="1.5"/>
<polygon points="824.0,514.0 822.8,516.2 822.5,518.7 820.2,519.8 818.5,521.6 816.0,521.2 813.5,521.6 811.8,519.8 809.5,518.7 809.2,516.2 808.0,514.0 809.2,511.8 809.5,509.3 811.8,508.2 813.5,506.4 816.0,506.8 818.5,506.4 820.2,508.2 822.5,509.3 822.8,511.8" fill="#d9787c"/>
<circle cx="816" cy="514" r="3.6" fill="#c25a60"/>
<polygon points="840.0,550.0 838.7,552.5 838.3,555.3 835.8,556.6 833.8,558.6 831.0,558.1 828.2,558.6 826.2,556.6 823.7,555.3 823.3,552.5 822.0,550.0 823.3,547.5 823.7,544.7 826.2,543.4 828.2,541.4 831.0,541.9 833.8,541.4 835.8,543.4 838.3,544.7 838.7,547.5" fill="#d0656b"/>
<circle cx="831" cy="550" r="4.0" fill="#b8474f"/>
<polygon points="855.5,547.4 854.2,549.9 853.8,552.7 851.3,554.0 849.3,556.0 846.5,555.5 843.7,556.0 841.7,554.0 839.2,552.7 838.8,549.9 837.5,547.4 838.8,544.9 839.2,542.1 841.7,540.8 843.7,538.8 846.5,539.3 849.3,538.8 851.3,540.8 853.8,542.1 854.2,544.9" fill="#e9898d"/>
<circle cx="846.5" cy="547.4" r="4.0" fill="#d0666c"/>
<polygon points="862.0,538.4 860.8,540.6 860.5,543.1 858.2,544.2 856.5,546.0 854.0,545.6 851.5,546.0 849.8,544.2 847.5,543.1 847.2,540.6 846.0,538.4 847.2,536.2 847.5,533.7 849.8,532.6 851.5,530.8 854.0,531.2 856.5,530.8 858.2,532.6 860.5,533.7 860.8,536.2" fill="#cf6a70"/>
<circle cx="854" cy="538.4" r="3.6" fill="#b3454d"/>
<polygon points="824.0,539.7 822.8,541.9 822.5,544.4 820.2,545.5 818.5,547.3 816.0,546.9 813.5,547.3 811.8,545.5 809.5,544.4 809.2,541.9 808.0,539.7 809.2,537.5 809.5,535.0 811.8,533.9 813.5,532.1 816.0,532.5 818.5,532.1 820.2,533.9 822.5,535.0 822.8,537.5" fill="#e5858a"/>
<circle cx="816" cy="539.7" r="3.6" fill="#cc6068"/>
<polygon points="837.4,515.5 836.0,518.3 835.5,521.4 832.7,522.8 830.5,525.0 827.4,524.5 824.3,525.0 822.1,522.8 819.3,521.4 818.8,518.3 817.4,515.5 818.8,512.7 819.3,509.6 822.1,508.2 824.3,506.0 827.4,506.5 830.5,506.0 832.7,508.2 835.5,509.6 836.0,512.7" fill="#e57f84"/>
<circle cx="827.4" cy="515.5" r="4.5" fill="#cf6268"/>
<polygon points="861.0,525.7 859.6,528.5 859.1,531.6 856.3,533.0 854.1,535.2 851.0,534.7 847.9,535.2 845.7,533.0 842.9,531.6 842.4,528.5 841.0,525.7 842.4,522.9 842.9,519.8 845.7,518.4 847.9,516.2 851.0,516.7 854.1,516.2 856.3,518.4 859.1,519.8 859.6,522.9" fill="#e9888c"/>
<circle cx="851" cy="525.7" r="4.5" fill="#d46b70"/>
<polygon points="826.4,527.0 824.8,530.1 824.3,533.5 821.2,535.0 818.8,537.5 815.4,536.9 812.0,537.5 809.6,535.0 806.5,533.5 806.0,530.1 804.4,527.0 806.0,523.9 806.5,520.5 809.6,519.0 812.0,516.5 815.4,517.1 818.8,516.5 821.2,519.0 824.3,520.5 824.8,523.9" fill="#f3a3a6"/>
<circle cx="815.4" cy="527" r="5.0" fill="#d9787d"/>
<polygon points="856.3,513.0 854.7,516.1 854.2,519.5 851.1,521.0 848.7,523.5 845.3,522.9 841.9,523.5 839.5,521.0 836.4,519.5 835.9,516.1 834.3,513.0 835.9,509.9 836.4,506.5 839.5,505.0 841.9,502.5 845.3,503.1 848.7,502.5 851.1,505.0 854.2,506.5 854.7,509.9" fill="#f1a4a7"/>
<circle cx="845.3" cy="513" r="5.0" fill="#d9777c"/>
<polygon points="847.0,537.2 845.3,540.5 844.7,544.3 841.3,545.9 838.7,548.6 835.0,548.0 831.3,548.6 828.7,545.9 825.3,544.3 824.7,540.5 823.0,537.2 824.7,533.9 825.3,530.1 828.7,528.5 831.3,525.8 835.0,526.4 838.7,525.8 841.3,528.5 844.7,530.1 845.3,533.9" fill="#f5a9ac"/>
<circle cx="835" cy="537.2" r="5.4" fill="#d97b80"/>
<circle cx="824.6" cy="497.6" r="2.8" fill="#b77b78"/>
<circle cx="858.3" cy="507.3" r="2.8" fill="#b77b78"/>
<circle cx="854" cy="560.5" r="2.8" fill="#b77b78"/>
<circle cx="803.6" cy="504.5" r="1.8" fill="#e8cfcf"/>
<circle cx="812.8" cy="504.2" r="1.5" fill="#e8cfcf"/>
<circle cx="845.6" cy="500.4" r="1.6" fill="#e8cfcf"/>
<circle cx="798.6" cy="519" r="1.8" fill="#e8cfcf"/>
<circle cx="868.5" cy="519" r="1.6" fill="#e8cfcf"/>
<circle cx="869.8" cy="532" r="1.6" fill="#e8cfcf"/>
<circle cx="867.7" cy="546.6" r="2.2" fill="#e0c8c8"/>
<circle cx="803.6" cy="547" r="1.6" fill="#e8cfcf"/>
<circle cx="818.6" cy="559" r="1.6" fill="#e8cfcf"/>
<line x1="870.8" y1="507.8" x2="891.2" y2="492.5" stroke="#333" stroke-width="1"/>
<line x1="876.7" y1="535.9" x2="896.8" y2="535.9" stroke="#333" stroke-width="1"/>
<line x1="869.5" y1="557.6" x2="894.3" y2="578" stroke="#333" stroke-width="1"/>
<text x="819" y="589.5" font-size="18.5" font-weight="normal" fill="#1a1a1a" text-anchor="start" textLength="40.3" lengthAdjust="spacingAndGlyphs">Cells</text>
<circle cx="923.4" cy="459.6" r="8.5" fill="#b9a9da"/>
<circle cx="923.4" cy="459.6" r="8.5" fill="none" stroke="#000" stroke-opacity="0.12" stroke-width="1"/>
<circle cx="925.9" cy="456.6" r="1.9" fill="#fff" opacity="0.5"/>
<circle cx="909.7" cy="480" r="9" fill="#8a72c1"/>
<circle cx="909.7" cy="480" r="9" fill="none" stroke="#000" stroke-opacity="0.12" stroke-width="1"/>
<circle cx="912.4" cy="476.9" r="2.0" fill="#fff" opacity="0.5"/>
<circle cx="933.7" cy="486" r="9" fill="#8a72c1"/>
<circle cx="933.7" cy="486" r="9" fill="none" stroke="#000" stroke-opacity="0.12" stroke-width="1"/>
<circle cx="936.4" cy="482.9" r="2.0" fill="#fff" opacity="0.5"/>
<circle cx="925" cy="520.5" r="8" fill="#c5cdeb"/>
<circle cx="925" cy="520.5" r="8" fill="none" stroke="#000" stroke-opacity="0.12" stroke-width="1"/>
<circle cx="927.4" cy="517.7" r="1.8" fill="#fff" opacity="0.5"/>
<circle cx="912.5" cy="539" r="8.5" fill="#96a6dc"/>
<circle cx="912.5" cy="539" r="8.5" fill="none" stroke="#000" stroke-opacity="0.12" stroke-width="1"/>
<circle cx="915.0" cy="536.0" r="1.9" fill="#fff" opacity="0.5"/>
<circle cx="934.6" cy="544.8" r="8.5" fill="#96a6dc"/>
<circle cx="934.6" cy="544.8" r="8.5" fill="none" stroke="#000" stroke-opacity="0.12" stroke-width="1"/>
<circle cx="937.1" cy="541.8" r="1.9" fill="#fff" opacity="0.5"/>
<circle cx="927.4" cy="579" r="8" fill="#6a83b5"/>
<circle cx="927.4" cy="579" r="8" fill="none" stroke="#000" stroke-opacity="0.12" stroke-width="1"/>
<circle cx="929.8" cy="576.2" r="1.8" fill="#fff" opacity="0.5"/>
<circle cx="915" cy="597.8" r="8.5" fill="#2d4e93"/>
<circle cx="915" cy="597.8" r="8.5" fill="none" stroke="#000" stroke-opacity="0.12" stroke-width="1"/>
<circle cx="917.5" cy="594.8" r="1.9" fill="#fff" opacity="0.5"/>
<circle cx="936.8" cy="602.5" r="8.5" fill="#2d4e93"/>
<circle cx="936.8" cy="602.5" r="8.5" fill="none" stroke="#000" stroke-opacity="0.12" stroke-width="1"/>
<circle cx="939.3" cy="599.5" r="1.9" fill="#fff" opacity="0.5"/>
<text x="957" y="479.3" font-size="18.5" font-weight="normal" fill="#1a1a1a" text-anchor="start" textLength="33.4" lengthAdjust="spacingAndGlyphs">IL-6</text>
<text x="951.4" y="537.6" font-size="18.5" font-weight="normal" fill="#1a1a1a" text-anchor="start" textLength="47" lengthAdjust="spacingAndGlyphs">IFN-α</text>
<text x="953.3" y="598.4" font-size="18.5" font-weight="normal" fill="#1a1a1a" text-anchor="start" textLength="52.7" lengthAdjust="spacingAndGlyphs">TNF-α</text>
<text x="922.5" y="634" font-size="14" font-weight="normal" fill="#1a1a1a" text-anchor="start" textLength="12.5" lengthAdjust="spacingAndGlyphs">...</text>
<text x="973.7" y="634" font-size="14" font-weight="normal" fill="#1a1a1a" text-anchor="start" textLength="12.5" lengthAdjust="spacingAndGlyphs">...</text>
<rect x="90.5" y="492" width="19.5" height="18.3" rx="4.5" fill="#8b3a70" stroke="#4a1d3c" stroke-width="0.8"/>
<rect x="90.5" y="531" width="19.5" height="17.8" rx="4.5" fill="#4db3b8" stroke="#26585b" stroke-width="0.8"/>
<text x="122.4" y="497.5" font-size="18.5" font-weight="normal" fill="#1a1a1a" text-anchor="start" textLength="174.8" lengthAdjust="spacingAndGlyphs">Substantia nigra and</text>
<text x="122.4" y="515.3" font-size="18.5" font-weight="normal" fill="#1a1a1a" text-anchor="start" textLength="199" lengthAdjust="spacingAndGlyphs">ventral tegmental areas</text>
<text x="122.4" y="546.5" font-size="18.5" font-weight="normal" fill="#1a1a1a" text-anchor="start" textLength="108.3" lengthAdjust="spacingAndGlyphs">Raphe nuclei</text>
<text x="122.4" y="576" font-size="18.5" font-weight="normal" fill="#1a1a1a" text-anchor="start" textLength="206" lengthAdjust="spacingAndGlyphs">Dopaminergic projection</text>
<text x="122.4" y="593.3" font-size="18.5" font-weight="normal" fill="#1a1a1a" text-anchor="start" textLength="70" lengthAdjust="spacingAndGlyphs">pathway</text>
<text x="122.4" y="622" font-size="18.5" font-weight="normal" fill="#1a1a1a" text-anchor="start" textLength="197.3" lengthAdjust="spacingAndGlyphs">Serotonergic projection</text>
<text x="122.4" y="639.2" font-size="18.5" font-weight="normal" fill="#1a1a1a" text-anchor="start" textLength="70" lengthAdjust="spacingAndGlyphs">pathway</text>
<text x="122.4" y="672.9" font-size="18.5" font-weight="normal" fill="#1a1a1a" text-anchor="start" textLength="163" lengthAdjust="spacingAndGlyphs">Neuroinflammation</text>
<circle cx="86.5" cy="577.7" r="4.6" fill="#8a3f9a"/>
<polyline points="86.5,577.7 102.8,577.7" stroke="#8a3f9a" stroke-width="2.6" fill="none"/>
<polyline points="110.6,569.2 102.8,577.7 110.6,586.2" stroke="#8a3f9a" stroke-width="2.6" fill="none" stroke-linejoin="round"/>
<circle cx="86.5" cy="623.6" r="4.6" fill="#4e3f8f"/>
<polyline points="86.5,623.6 102.8,623.6" stroke="#4e3f8f" stroke-width="2.6" fill="none"/>
<polyline points="110.6,615.1 102.8,623.6 110.6,632.1" stroke="#4e3f8f" stroke-width="2.6" fill="none" stroke-linejoin="round"/>
<path d="M88,674 C84,666 88,656 100,655 C108,654 114,655 113,661 C112,666 108,668 104,672 C100,678 92,680 88,674Z" fill="#f1c6c8"/>
<path d="M91,672 C88,666 92,658 100,657.5 C106,657 110,659 108,664 C106,668 103,670 100,673 C97,676 93,676 91,672Z" fill="#de979b"/>
<path d="M94,668 C93,663 96,660.5 100,660.5 C104,660.5 105,663 103,666 C101,669 99,671 97,671 C95,671 94,670 94,668Z" fill="#c8666b"/>
</svg></body></html>
